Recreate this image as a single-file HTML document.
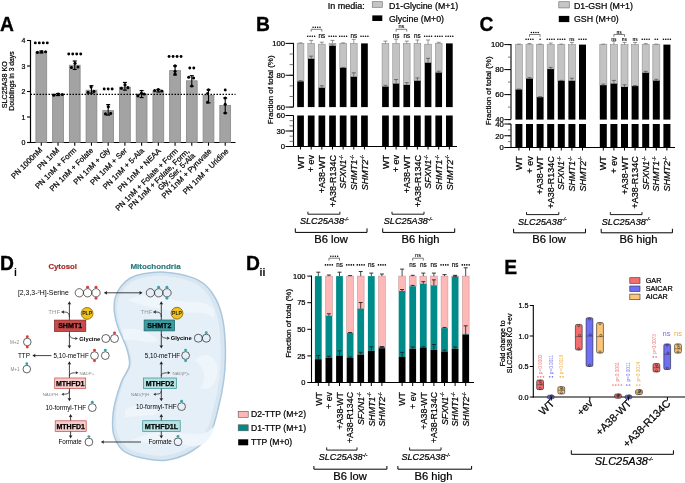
<!DOCTYPE html>
<html><head><meta charset="utf-8"><style>
html,body{margin:0;padding:0;background:#fff;width:685px;height:483px;overflow:hidden}
svg{display:block;will-change:transform}
text{font-family:"Liberation Sans", sans-serif}
</style></head><body>
<svg width="685" height="483" viewBox="0 0 685 483" font-family='"Liberation Sans", sans-serif'>
<rect width="685" height="483" fill="#fff"/>
<text x="0.00" y="31.00" font-size="19.3" text-anchor="start" fill="#000" font-weight="bold" stroke="#000" stroke-width="0.3">A</text>
<line x1="30.50" y1="40.00" x2="30.50" y2="143.00" stroke="#000" stroke-width="1.2"/>
<line x1="30.00" y1="142.50" x2="235.50" y2="142.50" stroke="#000" stroke-width="1.2"/>
<line x1="27.00" y1="142.50" x2="30.50" y2="142.50" stroke="#000" stroke-width="1.1"/>
<text x="25.50" y="145.00" font-size="7.0" text-anchor="end" fill="#000" stroke="#000" stroke-width="0.22">0</text>
<line x1="27.00" y1="117.00" x2="30.50" y2="117.00" stroke="#000" stroke-width="1.1"/>
<text x="25.50" y="119.50" font-size="7.0" text-anchor="end" fill="#000" stroke="#000" stroke-width="0.22">1</text>
<line x1="27.00" y1="91.50" x2="30.50" y2="91.50" stroke="#000" stroke-width="1.1"/>
<text x="25.50" y="94.00" font-size="7.0" text-anchor="end" fill="#000" stroke="#000" stroke-width="0.22">2</text>
<line x1="27.00" y1="66.00" x2="30.50" y2="66.00" stroke="#000" stroke-width="1.1"/>
<text x="25.50" y="68.50" font-size="7.0" text-anchor="end" fill="#000" stroke="#000" stroke-width="0.22">3</text>
<line x1="27.00" y1="40.50" x2="30.50" y2="40.50" stroke="#000" stroke-width="1.1"/>
<text x="25.50" y="43.00" font-size="7.0" text-anchor="end" fill="#000" stroke="#000" stroke-width="0.22">4</text>
<text x="7.30" y="84.70" font-size="7.2" text-anchor="middle" fill="#000" transform="rotate(-90 7.30 84.70)" stroke="#000" stroke-width="0.22">SLC25A38 KO</text>
<text x="14.00" y="81.00" font-size="6.8" text-anchor="middle" fill="#000" transform="rotate(-90 14.00 81.00)" stroke="#000" stroke-width="0.22">Doublings in 3 days</text>
<rect x="35.90" y="51.98" width="10.80" height="90.52" fill="#a3a3a3" stroke="#888888" stroke-width="0.8"/>
<line x1="41.30" y1="142.50" x2="41.30" y2="145.70" stroke="#000" stroke-width="1.1"/>
<rect x="52.62" y="94.56" width="10.80" height="47.94" fill="#a3a3a3" stroke="#888888" stroke-width="0.8"/>
<line x1="58.02" y1="142.50" x2="58.02" y2="145.70" stroke="#000" stroke-width="1.1"/>
<rect x="69.34" y="65.23" width="10.80" height="77.27" fill="#a3a3a3" stroke="#888888" stroke-width="0.8"/>
<line x1="74.74" y1="142.50" x2="74.74" y2="145.70" stroke="#000" stroke-width="1.1"/>
<rect x="86.06" y="90.22" width="10.80" height="52.28" fill="#a3a3a3" stroke="#888888" stroke-width="0.8"/>
<line x1="91.46" y1="142.50" x2="91.46" y2="145.70" stroke="#000" stroke-width="1.1"/>
<rect x="102.78" y="110.62" width="10.80" height="31.88" fill="#a3a3a3" stroke="#888888" stroke-width="0.8"/>
<line x1="108.18" y1="142.50" x2="108.18" y2="145.70" stroke="#000" stroke-width="1.1"/>
<rect x="119.50" y="87.16" width="10.80" height="55.34" fill="#a3a3a3" stroke="#888888" stroke-width="0.8"/>
<line x1="124.90" y1="142.50" x2="124.90" y2="145.70" stroke="#000" stroke-width="1.1"/>
<rect x="136.22" y="94.05" width="10.80" height="48.45" fill="#a3a3a3" stroke="#888888" stroke-width="0.8"/>
<line x1="141.62" y1="142.50" x2="141.62" y2="145.70" stroke="#000" stroke-width="1.1"/>
<rect x="152.94" y="90.99" width="10.80" height="51.51" fill="#a3a3a3" stroke="#888888" stroke-width="0.8"/>
<line x1="158.34" y1="142.50" x2="158.34" y2="145.70" stroke="#000" stroke-width="1.1"/>
<rect x="169.66" y="70.59" width="10.80" height="71.91" fill="#a3a3a3" stroke="#888888" stroke-width="0.8"/>
<line x1="175.06" y1="142.50" x2="175.06" y2="145.70" stroke="#000" stroke-width="1.1"/>
<rect x="186.38" y="80.79" width="10.80" height="61.71" fill="#a3a3a3" stroke="#888888" stroke-width="0.8"/>
<line x1="191.78" y1="142.50" x2="191.78" y2="145.70" stroke="#000" stroke-width="1.1"/>
<rect x="203.10" y="95.32" width="10.80" height="47.18" fill="#a3a3a3" stroke="#888888" stroke-width="0.8"/>
<line x1="208.50" y1="142.50" x2="208.50" y2="145.70" stroke="#000" stroke-width="1.1"/>
<rect x="219.82" y="105.53" width="10.80" height="36.97" fill="#a3a3a3" stroke="#888888" stroke-width="0.8"/>
<line x1="225.22" y1="142.50" x2="225.22" y2="145.70" stroke="#000" stroke-width="1.1"/>
<line x1="41.30" y1="50.98" x2="41.30" y2="52.98" stroke="#000" stroke-width="1.1"/>
<line x1="39.30" y1="50.98" x2="43.30" y2="50.98" stroke="#000" stroke-width="1.2"/>
<line x1="39.30" y1="52.98" x2="43.30" y2="52.98" stroke="#000" stroke-width="1.2"/>
<circle cx="37.40" cy="52.38" r="1.55" fill="#000" stroke="none" stroke-width="0.6"/>
<circle cx="41.70" cy="51.68" r="1.55" fill="#000" stroke="none" stroke-width="0.6"/>
<circle cx="45.60" cy="51.68" r="1.55" fill="#000" stroke="none" stroke-width="0.6"/>
<circle cx="35.30" cy="42.90" r="1.45" fill="#000" stroke="none" stroke-width="0.6"/>
<circle cx="39.30" cy="42.90" r="1.45" fill="#000" stroke="none" stroke-width="0.6"/>
<circle cx="43.30" cy="42.90" r="1.45" fill="#000" stroke="none" stroke-width="0.6"/>
<circle cx="47.30" cy="42.90" r="1.45" fill="#000" stroke="none" stroke-width="0.6"/>
<line x1="58.02" y1="93.56" x2="58.02" y2="95.56" stroke="#000" stroke-width="1.1"/>
<line x1="56.02" y1="93.56" x2="60.02" y2="93.56" stroke="#000" stroke-width="1.2"/>
<line x1="56.02" y1="95.56" x2="60.02" y2="95.56" stroke="#000" stroke-width="1.2"/>
<circle cx="53.82" cy="95.16" r="1.55" fill="#000" stroke="none" stroke-width="0.6"/>
<circle cx="58.32" cy="93.96" r="1.55" fill="#000" stroke="none" stroke-width="0.6"/>
<circle cx="62.32" cy="94.46" r="1.55" fill="#000" stroke="none" stroke-width="0.6"/>
<line x1="74.74" y1="61.03" x2="74.74" y2="69.44" stroke="#000" stroke-width="1.1"/>
<line x1="72.74" y1="61.03" x2="76.74" y2="61.03" stroke="#000" stroke-width="1.2"/>
<line x1="72.74" y1="69.44" x2="76.74" y2="69.44" stroke="#000" stroke-width="1.2"/>
<circle cx="71.44" cy="67.44" r="1.55" fill="#000" stroke="none" stroke-width="0.6"/>
<circle cx="75.04" cy="63.34" r="1.55" fill="#000" stroke="none" stroke-width="0.6"/>
<circle cx="77.94" cy="66.94" r="1.55" fill="#000" stroke="none" stroke-width="0.6"/>
<circle cx="68.74" cy="54.00" r="1.45" fill="#000" stroke="none" stroke-width="0.6"/>
<circle cx="72.74" cy="54.00" r="1.45" fill="#000" stroke="none" stroke-width="0.6"/>
<circle cx="76.74" cy="54.00" r="1.45" fill="#000" stroke="none" stroke-width="0.6"/>
<circle cx="80.74" cy="54.00" r="1.45" fill="#000" stroke="none" stroke-width="0.6"/>
<line x1="91.46" y1="85.72" x2="91.46" y2="93.22" stroke="#000" stroke-width="1.1"/>
<line x1="89.46" y1="85.72" x2="93.46" y2="85.72" stroke="#000" stroke-width="1.2"/>
<line x1="89.46" y1="93.22" x2="93.46" y2="93.22" stroke="#000" stroke-width="1.2"/>
<circle cx="88.06" cy="92.42" r="1.55" fill="#000" stroke="none" stroke-width="0.6"/>
<circle cx="91.16" cy="87.12" r="1.55" fill="#000" stroke="none" stroke-width="0.6"/>
<circle cx="93.96" cy="91.42" r="1.55" fill="#000" stroke="none" stroke-width="0.6"/>
<line x1="108.18" y1="104.62" x2="108.18" y2="115.12" stroke="#000" stroke-width="1.1"/>
<line x1="106.18" y1="104.62" x2="110.18" y2="104.62" stroke="#000" stroke-width="1.2"/>
<line x1="106.18" y1="115.12" x2="110.18" y2="115.12" stroke="#000" stroke-width="1.2"/>
<circle cx="105.48" cy="113.92" r="1.55" fill="#000" stroke="none" stroke-width="0.6"/>
<circle cx="108.28" cy="106.83" r="1.55" fill="#000" stroke="none" stroke-width="0.6"/>
<circle cx="110.68" cy="113.42" r="1.55" fill="#000" stroke="none" stroke-width="0.6"/>
<circle cx="104.18" cy="89.00" r="1.45" fill="#000" stroke="none" stroke-width="0.6"/>
<circle cx="108.18" cy="89.00" r="1.45" fill="#000" stroke="none" stroke-width="0.6"/>
<circle cx="112.18" cy="89.00" r="1.45" fill="#000" stroke="none" stroke-width="0.6"/>
<line x1="124.90" y1="82.46" x2="124.90" y2="90.16" stroke="#000" stroke-width="1.1"/>
<line x1="122.90" y1="82.46" x2="126.90" y2="82.46" stroke="#000" stroke-width="1.2"/>
<line x1="122.90" y1="90.16" x2="126.90" y2="90.16" stroke="#000" stroke-width="1.2"/>
<circle cx="121.40" cy="88.36" r="1.55" fill="#000" stroke="none" stroke-width="0.6"/>
<circle cx="125.00" cy="84.86" r="1.55" fill="#000" stroke="none" stroke-width="0.6"/>
<circle cx="127.90" cy="87.66" r="1.55" fill="#000" stroke="none" stroke-width="0.6"/>
<line x1="141.62" y1="90.55" x2="141.62" y2="97.55" stroke="#000" stroke-width="1.1"/>
<line x1="139.62" y1="90.55" x2="143.62" y2="90.55" stroke="#000" stroke-width="1.2"/>
<line x1="139.62" y1="97.55" x2="143.62" y2="97.55" stroke="#000" stroke-width="1.2"/>
<circle cx="137.92" cy="95.85" r="1.55" fill="#000" stroke="none" stroke-width="0.6"/>
<circle cx="141.42" cy="93.15" r="1.55" fill="#000" stroke="none" stroke-width="0.6"/>
<circle cx="144.12" cy="94.05" r="1.55" fill="#000" stroke="none" stroke-width="0.6"/>
<line x1="158.34" y1="89.49" x2="158.34" y2="91.99" stroke="#000" stroke-width="1.1"/>
<line x1="156.34" y1="89.49" x2="160.34" y2="89.49" stroke="#000" stroke-width="1.2"/>
<line x1="156.34" y1="91.99" x2="160.34" y2="91.99" stroke="#000" stroke-width="1.2"/>
<circle cx="154.64" cy="90.59" r="1.55" fill="#000" stroke="none" stroke-width="0.6"/>
<circle cx="158.24" cy="89.59" r="1.55" fill="#000" stroke="none" stroke-width="0.6"/>
<circle cx="161.74" cy="90.99" r="1.55" fill="#000" stroke="none" stroke-width="0.6"/>
<line x1="175.06" y1="65.89" x2="175.06" y2="74.89" stroke="#000" stroke-width="1.1"/>
<line x1="173.06" y1="65.89" x2="177.06" y2="65.89" stroke="#000" stroke-width="1.2"/>
<line x1="173.06" y1="74.89" x2="177.06" y2="74.89" stroke="#000" stroke-width="1.2"/>
<circle cx="175.06" cy="65.89" r="1.55" fill="#000" stroke="none" stroke-width="0.6"/>
<circle cx="175.06" cy="71.19" r="1.55" fill="#000" stroke="none" stroke-width="0.6"/>
<circle cx="175.06" cy="74.09" r="1.55" fill="#000" stroke="none" stroke-width="0.6"/>
<circle cx="169.06" cy="56.50" r="1.45" fill="#000" stroke="none" stroke-width="0.6"/>
<circle cx="173.06" cy="56.50" r="1.45" fill="#000" stroke="none" stroke-width="0.6"/>
<circle cx="177.06" cy="56.50" r="1.45" fill="#000" stroke="none" stroke-width="0.6"/>
<circle cx="181.06" cy="56.50" r="1.45" fill="#000" stroke="none" stroke-width="0.6"/>
<line x1="191.78" y1="75.69" x2="191.78" y2="86.29" stroke="#000" stroke-width="1.1"/>
<line x1="189.78" y1="75.69" x2="193.78" y2="75.69" stroke="#000" stroke-width="1.2"/>
<line x1="189.78" y1="86.29" x2="193.78" y2="86.29" stroke="#000" stroke-width="1.2"/>
<circle cx="188.68" cy="77.29" r="1.55" fill="#000" stroke="none" stroke-width="0.6"/>
<circle cx="193.58" cy="77.99" r="1.55" fill="#000" stroke="none" stroke-width="0.6"/>
<circle cx="191.78" cy="85.99" r="1.55" fill="#000" stroke="none" stroke-width="0.6"/>
<circle cx="189.78" cy="68.00" r="1.45" fill="#000" stroke="none" stroke-width="0.6"/>
<circle cx="193.78" cy="68.00" r="1.45" fill="#000" stroke="none" stroke-width="0.6"/>
<line x1="208.50" y1="89.82" x2="208.50" y2="102.82" stroke="#000" stroke-width="1.1"/>
<line x1="206.50" y1="89.82" x2="210.50" y2="89.82" stroke="#000" stroke-width="1.2"/>
<line x1="206.50" y1="102.82" x2="210.50" y2="102.82" stroke="#000" stroke-width="1.2"/>
<circle cx="207.60" cy="93.52" r="1.55" fill="#000" stroke="none" stroke-width="0.6"/>
<circle cx="207.60" cy="102.32" r="1.55" fill="#000" stroke="none" stroke-width="0.6"/>
<circle cx="208.50" cy="89.82" r="1.55" fill="#000" stroke="none" stroke-width="0.6"/>
<line x1="225.22" y1="98.03" x2="225.22" y2="113.03" stroke="#000" stroke-width="1.1"/>
<line x1="223.22" y1="98.03" x2="227.22" y2="98.03" stroke="#000" stroke-width="1.2"/>
<line x1="223.22" y1="113.03" x2="227.22" y2="113.03" stroke="#000" stroke-width="1.2"/>
<circle cx="225.22" cy="104.23" r="1.55" fill="#000" stroke="none" stroke-width="0.6"/>
<circle cx="225.22" cy="113.03" r="1.55" fill="#000" stroke="none" stroke-width="0.6"/>
<circle cx="225.22" cy="98.03" r="1.55" fill="#000" stroke="none" stroke-width="0.6"/>
<circle cx="225.22" cy="90.00" r="1.45" fill="#000" stroke="none" stroke-width="0.6"/>
<line x1="30.50" y1="94.35" x2="235.50" y2="94.35" stroke="#000" stroke-width="1.3" stroke-dasharray="1.5,1.5"/>
<text x="42.90" y="150.50" font-size="7.7" text-anchor="end" fill="#000" transform="rotate(-45 42.90 150.50)" stroke="#000" stroke-width="0.22">PN 1000nM</text>
<text x="59.82" y="150.62" font-size="7.7" text-anchor="end" fill="#000" transform="rotate(-45 59.82 150.62)" stroke="#000" stroke-width="0.22">PN 1nM</text>
<text x="76.74" y="150.74" font-size="7.7" text-anchor="end" fill="#000" transform="rotate(-45 76.74 150.74)" stroke="#000" stroke-width="0.22">PN 1nM + Form</text>
<text x="93.66" y="150.86" font-size="7.7" text-anchor="end" fill="#000" transform="rotate(-45 93.66 150.86)" stroke="#000" stroke-width="0.22">PN 1nM + Folate</text>
<text x="110.58" y="150.98" font-size="7.7" text-anchor="end" fill="#000" transform="rotate(-45 110.58 150.98)" stroke="#000" stroke-width="0.22">PN 1nM + Gly</text>
<text x="127.50" y="151.10" font-size="7.7" text-anchor="end" fill="#000" transform="rotate(-45 127.50 151.10)" stroke="#000" stroke-width="0.22">PN 1nM + Ser</text>
<text x="144.42" y="151.22" font-size="7.7" text-anchor="end" fill="#000" transform="rotate(-45 144.42 151.22)" stroke="#000" stroke-width="0.22">PN 1nM + 5-Ala</text>
<text x="161.34" y="151.34" font-size="7.7" text-anchor="end" fill="#000" transform="rotate(-45 161.34 151.34)" stroke="#000" stroke-width="0.22">PN 1nM + NEAA</text>
<text x="178.26" y="151.46" font-size="7.7" text-anchor="end" fill="#000" transform="rotate(-45 178.26 151.46)" stroke="#000" stroke-width="0.22">PN 1nM + Folate + Form</text>
<text x="195.58" y="156.18" font-size="7.7" text-anchor="end" fill="#000" transform="rotate(-45 195.58 156.18)" stroke="#000" stroke-width="0.22">Gly, Ser, 5-Ala</text>
<text x="189.78" y="151.58" font-size="7.7" text-anchor="end" fill="#000" transform="rotate(-45 189.78 151.58)" stroke="#000" stroke-width="0.22">PN 1nM + Folate, Form,</text>
<text x="212.10" y="151.70" font-size="7.7" text-anchor="end" fill="#000" transform="rotate(-45 212.10 151.70)" stroke="#000" stroke-width="0.22">PN 1nM + Pyruvate</text>
<text x="229.02" y="151.82" font-size="7.7" text-anchor="end" fill="#000" transform="rotate(-45 229.02 151.82)" stroke="#000" stroke-width="0.22">PN 1nM + Uridine</text>
<text x="255.90" y="31.20" font-size="19.3" text-anchor="start" fill="#000" font-weight="bold" stroke="#000" stroke-width="0.3">B</text>
<text x="327.80" y="8.80" font-size="9.0" text-anchor="start" fill="#000" stroke="#000" stroke-width="0.22">In media:</text>
<rect x="372.30" y="1.70" width="10.00" height="5.60" fill="#c6c6c6" stroke="#7a7a7a" stroke-width="0.7"/>
<text x="389.00" y="8.60" font-size="8.8" text-anchor="start" fill="#000" stroke="#000" stroke-width="0.22">D1-Glycine (M+1)</text>
<rect x="372.30" y="15.40" width="10.00" height="5.60" fill="#000" stroke="none" stroke-width="0.6"/>
<text x="389.00" y="22.00" font-size="8.8" text-anchor="start" fill="#000" stroke="#000" stroke-width="0.22">Glycine (M+0)</text>
<line x1="293.50" y1="42.90" x2="293.50" y2="107.10" stroke="#000" stroke-width="1.1"/>
<line x1="293.50" y1="115.50" x2="293.50" y2="147.00" stroke="#000" stroke-width="1.1"/>
<line x1="293.00" y1="146.50" x2="457.00" y2="146.50" stroke="#000" stroke-width="1.1"/>
<line x1="289.50" y1="43.40" x2="293.50" y2="43.40" stroke="#555" stroke-width="0.8"/>
<line x1="289.50" y1="54.02" x2="293.50" y2="54.02" stroke="#555" stroke-width="0.8"/>
<line x1="289.50" y1="64.63" x2="293.50" y2="64.63" stroke="#555" stroke-width="0.8"/>
<line x1="289.50" y1="75.25" x2="293.50" y2="75.25" stroke="#555" stroke-width="0.8"/>
<line x1="289.50" y1="85.87" x2="293.50" y2="85.87" stroke="#555" stroke-width="0.8"/>
<line x1="289.50" y1="96.48" x2="293.50" y2="96.48" stroke="#555" stroke-width="0.8"/>
<line x1="289.50" y1="107.10" x2="293.50" y2="107.10" stroke="#555" stroke-width="0.8"/>
<line x1="285.50" y1="43.40" x2="293.50" y2="43.40" stroke="#000" stroke-width="1.0"/>
<text x="285.10" y="46.20" font-size="7.7" text-anchor="end" fill="#000" stroke="#000" stroke-width="0.22">100</text>
<line x1="285.50" y1="75.25" x2="293.50" y2="75.25" stroke="#000" stroke-width="1.0"/>
<text x="285.10" y="78.05" font-size="7.7" text-anchor="end" fill="#000" stroke="#000" stroke-width="0.22">80</text>
<line x1="285.50" y1="107.10" x2="293.50" y2="107.10" stroke="#000" stroke-width="1.0"/>
<text x="285.10" y="109.90" font-size="7.7" text-anchor="end" fill="#000" stroke="#000" stroke-width="0.22">60</text>
<line x1="289.50" y1="146.50" x2="293.50" y2="146.50" stroke="#555" stroke-width="0.8"/>
<line x1="289.50" y1="141.33" x2="293.50" y2="141.33" stroke="#555" stroke-width="0.8"/>
<line x1="289.50" y1="136.17" x2="293.50" y2="136.17" stroke="#555" stroke-width="0.8"/>
<line x1="289.50" y1="131.00" x2="293.50" y2="131.00" stroke="#555" stroke-width="0.8"/>
<line x1="289.50" y1="125.83" x2="293.50" y2="125.83" stroke="#555" stroke-width="0.8"/>
<line x1="289.50" y1="120.67" x2="293.50" y2="120.67" stroke="#555" stroke-width="0.8"/>
<line x1="289.50" y1="115.50" x2="293.50" y2="115.50" stroke="#555" stroke-width="0.8"/>
<line x1="285.50" y1="115.50" x2="293.50" y2="115.50" stroke="#000" stroke-width="1.0"/>
<text x="285.10" y="118.30" font-size="7.7" text-anchor="end" fill="#000" stroke="#000" stroke-width="0.22">60</text>
<line x1="285.50" y1="131.00" x2="293.50" y2="131.00" stroke="#000" stroke-width="1.0"/>
<text x="285.10" y="133.80" font-size="7.7" text-anchor="end" fill="#000" stroke="#000" stroke-width="0.22">30</text>
<line x1="285.50" y1="146.50" x2="293.50" y2="146.50" stroke="#000" stroke-width="1.0"/>
<text x="285.10" y="149.30" font-size="7.7" text-anchor="end" fill="#000" stroke="#000" stroke-width="0.22">0</text>
<text x="273.20" y="89.90" font-size="7.9" text-anchor="middle" fill="#000" transform="rotate(-90 273.20 89.90)" stroke="#000" stroke-width="0.22">Fraction of total (%)</text>
<rect x="297.20" y="43.40" width="6.70" height="38.06" fill="#c3c3c3" stroke="#949494" stroke-width="0.65"/>
<rect x="297.20" y="81.46" width="6.70" height="25.64" fill="#000" stroke="none" stroke-width="0.6"/>
<rect x="297.20" y="115.50" width="6.70" height="31.00" fill="#000" stroke="none" stroke-width="0.6"/>
<line x1="300.55" y1="146.50" x2="300.55" y2="149.50" stroke="#000" stroke-width="1.0"/>
<text x="303.75" y="154.90" font-size="9.0" text-anchor="end" fill="#000" transform="rotate(-90 303.75 154.90)" stroke="#000" stroke-width="0.22">WT</text>
<rect x="307.85" y="43.40" width="6.70" height="15.45" fill="#c3c3c3" stroke="#949494" stroke-width="0.65"/>
<rect x="307.85" y="58.85" width="6.70" height="48.25" fill="#000" stroke="none" stroke-width="0.6"/>
<rect x="307.85" y="115.50" width="6.70" height="31.00" fill="#000" stroke="none" stroke-width="0.6"/>
<line x1="311.20" y1="146.50" x2="311.20" y2="149.50" stroke="#000" stroke-width="1.0"/>
<text x="314.40" y="154.90" font-size="9.0" text-anchor="end" fill="#000" transform="rotate(-90 314.40 154.90)" stroke="#000" stroke-width="0.22">+ ev</text>
<rect x="318.50" y="44.20" width="6.70" height="43.63" fill="#c3c3c3" stroke="#949494" stroke-width="0.65"/>
<rect x="318.50" y="87.83" width="6.70" height="19.27" fill="#000" stroke="none" stroke-width="0.6"/>
<rect x="318.50" y="115.50" width="6.70" height="31.00" fill="#000" stroke="none" stroke-width="0.6"/>
<line x1="321.85" y1="146.50" x2="321.85" y2="149.50" stroke="#000" stroke-width="1.0"/>
<text x="325.05" y="154.90" font-size="9.0" text-anchor="end" fill="#000" transform="rotate(-90 325.05 154.90)" stroke="#000" stroke-width="0.22">+A38-WT</text>
<rect x="329.15" y="43.40" width="6.70" height="2.55" fill="#c3c3c3" stroke="#949494" stroke-width="0.65"/>
<rect x="329.15" y="45.95" width="6.70" height="61.15" fill="#000" stroke="none" stroke-width="0.6"/>
<rect x="329.15" y="115.50" width="6.70" height="31.00" fill="#000" stroke="none" stroke-width="0.6"/>
<line x1="332.50" y1="146.50" x2="332.50" y2="149.50" stroke="#000" stroke-width="1.0"/>
<text x="335.70" y="154.90" font-size="9.0" text-anchor="end" fill="#000" transform="rotate(-90 335.70 154.90)" stroke="#000" stroke-width="0.22">+A38-R134C</text>
<rect x="339.80" y="43.40" width="6.70" height="24.52" fill="#c3c3c3" stroke="#949494" stroke-width="0.65"/>
<rect x="339.80" y="67.92" width="6.70" height="39.18" fill="#000" stroke="none" stroke-width="0.6"/>
<rect x="339.80" y="115.50" width="6.70" height="31.00" fill="#000" stroke="none" stroke-width="0.6"/>
<line x1="343.15" y1="146.50" x2="343.15" y2="149.50" stroke="#000" stroke-width="1.0"/>
<text x="346.35" y="154.90" font-size="9.0" text-anchor="end" fill="#000" transform="rotate(-90 346.35 154.90)" stroke="#000" stroke-width="0.22"><tspan font-style="italic">SFXN1</tspan><tspan font-size="5" dy="-3.2">-/-</tspan></text>
<rect x="350.45" y="43.40" width="6.70" height="33.44" fill="#c3c3c3" stroke="#949494" stroke-width="0.65"/>
<rect x="350.45" y="76.84" width="6.70" height="30.26" fill="#000" stroke="none" stroke-width="0.6"/>
<rect x="350.45" y="115.50" width="6.70" height="31.00" fill="#000" stroke="none" stroke-width="0.6"/>
<line x1="353.80" y1="146.50" x2="353.80" y2="149.50" stroke="#000" stroke-width="1.0"/>
<text x="357.00" y="154.90" font-size="9.0" text-anchor="end" fill="#000" transform="rotate(-90 357.00 154.90)" stroke="#000" stroke-width="0.22"><tspan font-style="italic">SHMT1</tspan><tspan font-size="5" dy="-3.2">-/-</tspan></text>
<rect x="361.10" y="43.40" width="6.70" height="63.70" fill="#000" stroke="none" stroke-width="0.6"/>
<rect x="361.10" y="115.50" width="6.70" height="31.00" fill="#000" stroke="none" stroke-width="0.6"/>
<line x1="364.45" y1="146.50" x2="364.45" y2="149.50" stroke="#000" stroke-width="1.0"/>
<text x="367.65" y="154.90" font-size="9.0" text-anchor="end" fill="#000" transform="rotate(-90 367.65 154.90)" stroke="#000" stroke-width="0.22"><tspan font-style="italic">SHMT2</tspan><tspan font-size="5" dy="-3.2">-/-</tspan></text>
<line x1="300.55" y1="43.40" x2="300.55" y2="42.90" stroke="#777" stroke-width="0.7200000000000001"/>
<line x1="298.55" y1="42.90" x2="302.55" y2="42.90" stroke="#777" stroke-width="0.8"/>
<line x1="300.55" y1="81.46" x2="300.55" y2="80.66" stroke="#555" stroke-width="0.7200000000000001"/>
<line x1="298.55" y1="80.66" x2="302.55" y2="80.66" stroke="#555" stroke-width="0.8"/>
<line x1="311.20" y1="43.40" x2="311.20" y2="40.40" stroke="#777" stroke-width="0.7200000000000001"/>
<line x1="309.20" y1="40.40" x2="313.20" y2="40.40" stroke="#777" stroke-width="0.8"/>
<line x1="311.20" y1="58.85" x2="311.20" y2="56.15" stroke="#555" stroke-width="0.7200000000000001"/>
<line x1="309.20" y1="56.15" x2="313.20" y2="56.15" stroke="#555" stroke-width="0.8"/>
<circle cx="307.75" cy="36.30" r="0.80" fill="#000" stroke="none" stroke-width="0.6"/>
<circle cx="310.05" cy="36.30" r="0.80" fill="#000" stroke="none" stroke-width="0.6"/>
<circle cx="312.35" cy="36.30" r="0.80" fill="#000" stroke="none" stroke-width="0.6"/>
<circle cx="314.65" cy="36.30" r="0.80" fill="#000" stroke="none" stroke-width="0.6"/>
<line x1="321.85" y1="44.20" x2="321.85" y2="42.20" stroke="#777" stroke-width="0.7200000000000001"/>
<line x1="319.85" y1="42.20" x2="323.85" y2="42.20" stroke="#777" stroke-width="0.8"/>
<line x1="321.85" y1="87.83" x2="321.85" y2="85.73" stroke="#555" stroke-width="0.7200000000000001"/>
<line x1="319.85" y1="85.73" x2="323.85" y2="85.73" stroke="#555" stroke-width="0.8"/>
<text x="321.85" y="37.90" font-size="6.3" text-anchor="middle" fill="#000" stroke="#000" stroke-width="0.15">ns</text>
<line x1="332.50" y1="43.40" x2="332.50" y2="40.40" stroke="#777" stroke-width="0.7200000000000001"/>
<line x1="330.50" y1="40.40" x2="334.50" y2="40.40" stroke="#777" stroke-width="0.8"/>
<line x1="332.50" y1="45.95" x2="332.50" y2="44.95" stroke="#555" stroke-width="0.7200000000000001"/>
<line x1="330.50" y1="44.95" x2="334.50" y2="44.95" stroke="#555" stroke-width="0.8"/>
<circle cx="329.05" cy="36.30" r="0.80" fill="#000" stroke="none" stroke-width="0.6"/>
<circle cx="331.35" cy="36.30" r="0.80" fill="#000" stroke="none" stroke-width="0.6"/>
<circle cx="333.65" cy="36.30" r="0.80" fill="#000" stroke="none" stroke-width="0.6"/>
<circle cx="335.95" cy="36.30" r="0.80" fill="#000" stroke="none" stroke-width="0.6"/>
<line x1="343.15" y1="43.40" x2="343.15" y2="42.90" stroke="#777" stroke-width="0.7200000000000001"/>
<line x1="341.15" y1="42.90" x2="345.15" y2="42.90" stroke="#777" stroke-width="0.8"/>
<line x1="343.15" y1="67.92" x2="343.15" y2="67.42" stroke="#555" stroke-width="0.7200000000000001"/>
<line x1="341.15" y1="67.42" x2="345.15" y2="67.42" stroke="#555" stroke-width="0.8"/>
<circle cx="339.70" cy="36.30" r="0.80" fill="#000" stroke="none" stroke-width="0.6"/>
<circle cx="342.00" cy="36.30" r="0.80" fill="#000" stroke="none" stroke-width="0.6"/>
<circle cx="344.30" cy="36.30" r="0.80" fill="#000" stroke="none" stroke-width="0.6"/>
<circle cx="346.60" cy="36.30" r="0.80" fill="#000" stroke="none" stroke-width="0.6"/>
<line x1="353.80" y1="43.40" x2="353.80" y2="39.40" stroke="#777" stroke-width="0.7200000000000001"/>
<line x1="351.80" y1="39.40" x2="355.80" y2="39.40" stroke="#777" stroke-width="0.8"/>
<line x1="353.80" y1="76.84" x2="353.80" y2="72.84" stroke="#555" stroke-width="0.7200000000000001"/>
<line x1="351.80" y1="72.84" x2="355.80" y2="72.84" stroke="#555" stroke-width="0.8"/>
<text x="353.80" y="37.90" font-size="6.3" text-anchor="middle" fill="#000" stroke="#000" stroke-width="0.15">ns</text>
<circle cx="361.00" cy="36.30" r="0.80" fill="#000" stroke="none" stroke-width="0.6"/>
<circle cx="363.30" cy="36.30" r="0.80" fill="#000" stroke="none" stroke-width="0.6"/>
<circle cx="365.60" cy="36.30" r="0.80" fill="#000" stroke="none" stroke-width="0.6"/>
<circle cx="367.90" cy="36.30" r="0.80" fill="#000" stroke="none" stroke-width="0.6"/>
<path d="M311.20 31.60 V29.30 H321.85 V31.60" fill="none" stroke="#444" stroke-width="0.7"/>
<circle cx="313.07" cy="27.20" r="0.75" fill="#000" stroke="none" stroke-width="0.6"/>
<circle cx="315.38" cy="27.20" r="0.75" fill="#000" stroke="none" stroke-width="0.6"/>
<circle cx="317.68" cy="27.20" r="0.75" fill="#000" stroke="none" stroke-width="0.6"/>
<circle cx="319.97" cy="27.20" r="0.75" fill="#000" stroke="none" stroke-width="0.6"/>
<rect x="382.10" y="43.40" width="6.70" height="43.32" fill="#c3c3c3" stroke="#949494" stroke-width="0.65"/>
<rect x="382.10" y="86.72" width="6.70" height="20.38" fill="#000" stroke="none" stroke-width="0.6"/>
<rect x="382.10" y="115.50" width="6.70" height="31.00" fill="#000" stroke="none" stroke-width="0.6"/>
<line x1="385.45" y1="146.50" x2="385.45" y2="149.50" stroke="#000" stroke-width="1.0"/>
<text x="388.65" y="154.90" font-size="9.0" text-anchor="end" fill="#000" transform="rotate(-90 388.65 154.90)" stroke="#000" stroke-width="0.22">WT</text>
<rect x="392.75" y="43.40" width="6.70" height="40.29" fill="#c3c3c3" stroke="#949494" stroke-width="0.65"/>
<rect x="392.75" y="83.69" width="6.70" height="23.41" fill="#000" stroke="none" stroke-width="0.6"/>
<rect x="392.75" y="115.50" width="6.70" height="31.00" fill="#000" stroke="none" stroke-width="0.6"/>
<line x1="396.10" y1="146.50" x2="396.10" y2="149.50" stroke="#000" stroke-width="1.0"/>
<text x="399.30" y="154.90" font-size="9.0" text-anchor="end" fill="#000" transform="rotate(-90 399.30 154.90)" stroke="#000" stroke-width="0.22">+ ev</text>
<rect x="403.40" y="43.40" width="6.70" height="41.56" fill="#c3c3c3" stroke="#949494" stroke-width="0.65"/>
<rect x="403.40" y="84.96" width="6.70" height="22.14" fill="#000" stroke="none" stroke-width="0.6"/>
<rect x="403.40" y="115.50" width="6.70" height="31.00" fill="#000" stroke="none" stroke-width="0.6"/>
<line x1="406.75" y1="146.50" x2="406.75" y2="149.50" stroke="#000" stroke-width="1.0"/>
<text x="409.95" y="154.90" font-size="9.0" text-anchor="end" fill="#000" transform="rotate(-90 409.95 154.90)" stroke="#000" stroke-width="0.22">+A38-WT</text>
<rect x="414.05" y="43.40" width="6.70" height="37.42" fill="#c3c3c3" stroke="#949494" stroke-width="0.65"/>
<rect x="414.05" y="80.82" width="6.70" height="26.28" fill="#000" stroke="none" stroke-width="0.6"/>
<rect x="414.05" y="115.50" width="6.70" height="31.00" fill="#000" stroke="none" stroke-width="0.6"/>
<line x1="417.40" y1="146.50" x2="417.40" y2="149.50" stroke="#000" stroke-width="1.0"/>
<text x="420.60" y="154.90" font-size="9.0" text-anchor="end" fill="#000" transform="rotate(-90 420.60 154.90)" stroke="#000" stroke-width="0.22">+A38-R134C</text>
<rect x="424.70" y="44.20" width="6.70" height="18.63" fill="#c3c3c3" stroke="#949494" stroke-width="0.65"/>
<rect x="424.70" y="62.83" width="6.70" height="44.27" fill="#000" stroke="none" stroke-width="0.6"/>
<rect x="424.70" y="115.50" width="6.70" height="31.00" fill="#000" stroke="none" stroke-width="0.6"/>
<line x1="428.05" y1="146.50" x2="428.05" y2="149.50" stroke="#000" stroke-width="1.0"/>
<text x="431.25" y="154.90" font-size="9.0" text-anchor="end" fill="#000" transform="rotate(-90 431.25 154.90)" stroke="#000" stroke-width="0.22"><tspan font-style="italic">SFXN1</tspan><tspan font-size="5" dy="-3.2">-/-</tspan></text>
<rect x="435.35" y="43.40" width="6.70" height="29.30" fill="#c3c3c3" stroke="#949494" stroke-width="0.65"/>
<rect x="435.35" y="72.70" width="6.70" height="34.40" fill="#000" stroke="none" stroke-width="0.6"/>
<rect x="435.35" y="115.50" width="6.70" height="31.00" fill="#000" stroke="none" stroke-width="0.6"/>
<line x1="438.70" y1="146.50" x2="438.70" y2="149.50" stroke="#000" stroke-width="1.0"/>
<text x="441.90" y="154.90" font-size="9.0" text-anchor="end" fill="#000" transform="rotate(-90 441.90 154.90)" stroke="#000" stroke-width="0.22"><tspan font-style="italic">SHMT1</tspan><tspan font-size="5" dy="-3.2">-/-</tspan></text>
<rect x="446.00" y="43.40" width="6.70" height="63.70" fill="#000" stroke="none" stroke-width="0.6"/>
<rect x="446.00" y="115.50" width="6.70" height="31.00" fill="#000" stroke="none" stroke-width="0.6"/>
<line x1="449.35" y1="146.50" x2="449.35" y2="149.50" stroke="#000" stroke-width="1.0"/>
<text x="452.55" y="154.90" font-size="9.0" text-anchor="end" fill="#000" transform="rotate(-90 452.55 154.90)" stroke="#000" stroke-width="0.22"><tspan font-style="italic">SHMT2</tspan><tspan font-size="5" dy="-3.2">-/-</tspan></text>
<line x1="385.45" y1="43.40" x2="385.45" y2="41.10" stroke="#777" stroke-width="0.7200000000000001"/>
<line x1="383.45" y1="41.10" x2="387.45" y2="41.10" stroke="#777" stroke-width="0.8"/>
<line x1="385.45" y1="86.72" x2="385.45" y2="85.32" stroke="#555" stroke-width="0.7200000000000001"/>
<line x1="383.45" y1="85.32" x2="387.45" y2="85.32" stroke="#555" stroke-width="0.8"/>
<line x1="396.10" y1="43.40" x2="396.10" y2="39.20" stroke="#777" stroke-width="0.7200000000000001"/>
<line x1="394.10" y1="39.20" x2="398.10" y2="39.20" stroke="#777" stroke-width="0.8"/>
<line x1="396.10" y1="83.69" x2="396.10" y2="79.59" stroke="#555" stroke-width="0.7200000000000001"/>
<line x1="394.10" y1="79.59" x2="398.10" y2="79.59" stroke="#555" stroke-width="0.8"/>
<text x="396.10" y="37.90" font-size="6.3" text-anchor="middle" fill="#000" stroke="#000" stroke-width="0.15">ns</text>
<line x1="406.75" y1="43.40" x2="406.75" y2="41.10" stroke="#777" stroke-width="0.7200000000000001"/>
<line x1="404.75" y1="41.10" x2="408.75" y2="41.10" stroke="#777" stroke-width="0.8"/>
<line x1="406.75" y1="84.96" x2="406.75" y2="82.66" stroke="#555" stroke-width="0.7200000000000001"/>
<line x1="404.75" y1="82.66" x2="408.75" y2="82.66" stroke="#555" stroke-width="0.8"/>
<text x="406.75" y="37.90" font-size="6.3" text-anchor="middle" fill="#000" stroke="#000" stroke-width="0.15">ns</text>
<line x1="417.40" y1="43.40" x2="417.40" y2="40.00" stroke="#777" stroke-width="0.7200000000000001"/>
<line x1="415.40" y1="40.00" x2="419.40" y2="40.00" stroke="#777" stroke-width="0.8"/>
<line x1="417.40" y1="80.82" x2="417.40" y2="77.92" stroke="#555" stroke-width="0.7200000000000001"/>
<line x1="415.40" y1="77.92" x2="419.40" y2="77.92" stroke="#555" stroke-width="0.8"/>
<text x="417.40" y="37.90" font-size="6.3" text-anchor="middle" fill="#000" stroke="#000" stroke-width="0.15">ns</text>
<line x1="428.05" y1="44.20" x2="428.05" y2="40.00" stroke="#777" stroke-width="0.7200000000000001"/>
<line x1="426.05" y1="40.00" x2="430.05" y2="40.00" stroke="#777" stroke-width="0.8"/>
<line x1="428.05" y1="62.83" x2="428.05" y2="58.33" stroke="#555" stroke-width="0.7200000000000001"/>
<line x1="426.05" y1="58.33" x2="430.05" y2="58.33" stroke="#555" stroke-width="0.8"/>
<circle cx="424.60" cy="36.30" r="0.80" fill="#000" stroke="none" stroke-width="0.6"/>
<circle cx="426.90" cy="36.30" r="0.80" fill="#000" stroke="none" stroke-width="0.6"/>
<circle cx="429.20" cy="36.30" r="0.80" fill="#000" stroke="none" stroke-width="0.6"/>
<circle cx="431.50" cy="36.30" r="0.80" fill="#000" stroke="none" stroke-width="0.6"/>
<line x1="438.70" y1="43.40" x2="438.70" y2="42.30" stroke="#777" stroke-width="0.7200000000000001"/>
<line x1="436.70" y1="42.30" x2="440.70" y2="42.30" stroke="#777" stroke-width="0.8"/>
<line x1="438.70" y1="72.70" x2="438.70" y2="71.20" stroke="#555" stroke-width="0.7200000000000001"/>
<line x1="436.70" y1="71.20" x2="440.70" y2="71.20" stroke="#555" stroke-width="0.8"/>
<circle cx="435.25" cy="36.30" r="0.80" fill="#000" stroke="none" stroke-width="0.6"/>
<circle cx="437.55" cy="36.30" r="0.80" fill="#000" stroke="none" stroke-width="0.6"/>
<circle cx="439.85" cy="36.30" r="0.80" fill="#000" stroke="none" stroke-width="0.6"/>
<circle cx="442.15" cy="36.30" r="0.80" fill="#000" stroke="none" stroke-width="0.6"/>
<circle cx="445.90" cy="36.30" r="0.80" fill="#000" stroke="none" stroke-width="0.6"/>
<circle cx="448.20" cy="36.30" r="0.80" fill="#000" stroke="none" stroke-width="0.6"/>
<circle cx="450.50" cy="36.30" r="0.80" fill="#000" stroke="none" stroke-width="0.6"/>
<circle cx="452.80" cy="36.30" r="0.80" fill="#000" stroke="none" stroke-width="0.6"/>
<path d="M396.10 31.60 V29.30 H406.75 V31.60" fill="none" stroke="#444" stroke-width="0.7"/>
<text x="401.43" y="28.00" font-size="5.6" text-anchor="middle" fill="#000" stroke="#000" stroke-width="0.1">ns</text>
<path d="M307.90 211.70 V214.20 H339.90 V211.70" fill="none" stroke="#000" stroke-width="0.9"/>
<text x="300.00" y="224.20" font-size="9.1" text-anchor="start" fill="#000" font-style="italic" stroke="#000" stroke-width="0.22">SLC25A38<tspan font-size="5" dy="-3.5">-/-</tspan></text>
<path d="M295.30 228.40 V232.40 H367.00 V228.40" fill="none" stroke="#000" stroke-width="1.0"/>
<text x="331.00" y="242.90" font-size="11.2" text-anchor="middle" fill="#000" stroke="#000" stroke-width="0.22">B6 low</text>
<path d="M392.00 211.70 V214.20 H424.00 V211.70" fill="none" stroke="#000" stroke-width="0.9"/>
<text x="383.80" y="224.20" font-size="9.1" text-anchor="start" fill="#000" font-style="italic" stroke="#000" stroke-width="0.22">SLC25A38<tspan font-size="5" dy="-3.5">-/-</tspan></text>
<path d="M382.70 228.40 V232.40 H454.70 V228.40" fill="none" stroke="#000" stroke-width="1.0"/>
<text x="420.50" y="242.90" font-size="11.2" text-anchor="middle" fill="#000" stroke="#000" stroke-width="0.22">B6 high</text>
<text x="479.40" y="31.30" font-size="19.3" text-anchor="start" fill="#000" font-weight="bold" stroke="#000" stroke-width="0.3">C</text>
<rect x="558.80" y="1.70" width="10.50" height="6.20" fill="#c6c6c6" stroke="#7a7a7a" stroke-width="0.7"/>
<text x="574.00" y="8.60" font-size="8.8" text-anchor="start" fill="#000" stroke="#000" stroke-width="0.22">D1-GSH (M+1)</text>
<rect x="558.80" y="15.90" width="10.50" height="6.20" fill="#000" stroke="none" stroke-width="0.6"/>
<text x="574.00" y="22.40" font-size="8.8" text-anchor="start" fill="#000" stroke="#000" stroke-width="0.22">GSH (M+0)</text>
<line x1="511.00" y1="44.10" x2="511.00" y2="119.60" stroke="#000" stroke-width="1.1"/>
<line x1="511.00" y1="124.00" x2="511.00" y2="148.00" stroke="#000" stroke-width="1.1"/>
<line x1="510.50" y1="147.50" x2="675.00" y2="147.50" stroke="#000" stroke-width="1.1"/>
<line x1="508.00" y1="44.60" x2="511.00" y2="44.60" stroke="#555" stroke-width="0.8"/>
<line x1="508.00" y1="57.10" x2="511.00" y2="57.10" stroke="#555" stroke-width="0.8"/>
<line x1="508.00" y1="69.60" x2="511.00" y2="69.60" stroke="#555" stroke-width="0.8"/>
<line x1="508.00" y1="82.10" x2="511.00" y2="82.10" stroke="#555" stroke-width="0.8"/>
<line x1="508.00" y1="94.60" x2="511.00" y2="94.60" stroke="#555" stroke-width="0.8"/>
<line x1="508.00" y1="107.10" x2="511.00" y2="107.10" stroke="#555" stroke-width="0.8"/>
<line x1="508.00" y1="119.60" x2="511.00" y2="119.60" stroke="#555" stroke-width="0.8"/>
<line x1="504.30" y1="44.60" x2="511.00" y2="44.60" stroke="#000" stroke-width="1.0"/>
<text x="503.90" y="47.40" font-size="7.7" text-anchor="end" fill="#000" stroke="#000" stroke-width="0.22">100</text>
<line x1="504.30" y1="69.60" x2="511.00" y2="69.60" stroke="#000" stroke-width="1.0"/>
<text x="503.90" y="72.40" font-size="7.7" text-anchor="end" fill="#000" stroke="#000" stroke-width="0.22">80</text>
<line x1="504.30" y1="94.60" x2="511.00" y2="94.60" stroke="#000" stroke-width="1.0"/>
<text x="503.90" y="97.40" font-size="7.7" text-anchor="end" fill="#000" stroke="#000" stroke-width="0.22">60</text>
<line x1="504.30" y1="119.60" x2="511.00" y2="119.60" stroke="#000" stroke-width="1.0"/>
<text x="503.90" y="122.40" font-size="7.7" text-anchor="end" fill="#000" stroke="#000" stroke-width="0.22">40</text>
<line x1="508.00" y1="147.50" x2="511.00" y2="147.50" stroke="#555" stroke-width="0.8"/>
<line x1="508.00" y1="141.62" x2="511.00" y2="141.62" stroke="#555" stroke-width="0.8"/>
<line x1="508.00" y1="135.75" x2="511.00" y2="135.75" stroke="#555" stroke-width="0.8"/>
<line x1="508.00" y1="129.88" x2="511.00" y2="129.88" stroke="#555" stroke-width="0.8"/>
<line x1="508.00" y1="124.00" x2="511.00" y2="124.00" stroke="#555" stroke-width="0.8"/>
<line x1="504.30" y1="124.00" x2="511.00" y2="124.00" stroke="#000" stroke-width="1.0"/>
<text x="503.90" y="126.80" font-size="7.7" text-anchor="end" fill="#000" stroke="#000" stroke-width="0.22">40</text>
<line x1="504.30" y1="135.75" x2="511.00" y2="135.75" stroke="#000" stroke-width="1.0"/>
<text x="503.90" y="138.55" font-size="7.7" text-anchor="end" fill="#000" stroke="#000" stroke-width="0.22">20</text>
<line x1="504.30" y1="147.50" x2="511.00" y2="147.50" stroke="#000" stroke-width="1.0"/>
<text x="503.90" y="150.30" font-size="7.7" text-anchor="end" fill="#000" stroke="#000" stroke-width="0.22">0</text>
<text x="490.60" y="90.90" font-size="7.9" text-anchor="middle" fill="#000" transform="rotate(-90 490.60 90.90)" stroke="#000" stroke-width="0.22">Fraction of total (%)</text>
<rect x="515.40" y="44.60" width="7.00" height="45.00" fill="#c3c3c3" stroke="#949494" stroke-width="0.65"/>
<rect x="515.40" y="89.60" width="7.00" height="30.00" fill="#000" stroke="none" stroke-width="0.6"/>
<rect x="515.40" y="124.00" width="7.00" height="23.50" fill="#000" stroke="none" stroke-width="0.6"/>
<line x1="518.90" y1="147.50" x2="518.90" y2="150.50" stroke="#000" stroke-width="1.0"/>
<text x="522.10" y="156.30" font-size="9.0" text-anchor="end" fill="#000" transform="rotate(-90 522.10 156.30)" stroke="#000" stroke-width="0.22">WT</text>
<rect x="526.00" y="44.60" width="7.00" height="34.12" fill="#c3c3c3" stroke="#949494" stroke-width="0.65"/>
<rect x="526.00" y="78.72" width="7.00" height="40.88" fill="#000" stroke="none" stroke-width="0.6"/>
<rect x="526.00" y="124.00" width="7.00" height="23.50" fill="#000" stroke="none" stroke-width="0.6"/>
<line x1="529.50" y1="147.50" x2="529.50" y2="150.50" stroke="#000" stroke-width="1.0"/>
<text x="532.70" y="156.30" font-size="9.0" text-anchor="end" fill="#000" transform="rotate(-90 532.70 156.30)" stroke="#000" stroke-width="0.22">+ ev</text>
<rect x="536.60" y="44.60" width="7.00" height="52.62" fill="#c3c3c3" stroke="#949494" stroke-width="0.65"/>
<rect x="536.60" y="97.22" width="7.00" height="22.38" fill="#000" stroke="none" stroke-width="0.6"/>
<rect x="536.60" y="124.00" width="7.00" height="23.50" fill="#000" stroke="none" stroke-width="0.6"/>
<line x1="540.10" y1="147.50" x2="540.10" y2="150.50" stroke="#000" stroke-width="1.0"/>
<text x="543.30" y="156.30" font-size="9.0" text-anchor="end" fill="#000" transform="rotate(-90 543.30 156.30)" stroke="#000" stroke-width="0.22">+A38-WT</text>
<rect x="547.20" y="44.60" width="7.00" height="24.50" fill="#c3c3c3" stroke="#949494" stroke-width="0.65"/>
<rect x="547.20" y="69.10" width="7.00" height="50.50" fill="#000" stroke="none" stroke-width="0.6"/>
<rect x="547.20" y="124.00" width="7.00" height="23.50" fill="#000" stroke="none" stroke-width="0.6"/>
<line x1="550.70" y1="147.50" x2="550.70" y2="150.50" stroke="#000" stroke-width="1.0"/>
<text x="553.90" y="156.30" font-size="9.0" text-anchor="end" fill="#000" transform="rotate(-90 553.90 156.30)" stroke="#000" stroke-width="0.22">+A38-R134C</text>
<rect x="557.80" y="44.60" width="7.00" height="36.25" fill="#c3c3c3" stroke="#949494" stroke-width="0.65"/>
<rect x="557.80" y="80.85" width="7.00" height="38.75" fill="#000" stroke="none" stroke-width="0.6"/>
<rect x="557.80" y="124.00" width="7.00" height="23.50" fill="#000" stroke="none" stroke-width="0.6"/>
<line x1="561.30" y1="147.50" x2="561.30" y2="150.50" stroke="#000" stroke-width="1.0"/>
<text x="564.50" y="156.30" font-size="9.0" text-anchor="end" fill="#000" transform="rotate(-90 564.50 156.30)" stroke="#000" stroke-width="0.22"><tspan font-style="italic">SFXN1</tspan><tspan font-size="5" dy="-3.2">-/-</tspan></text>
<rect x="568.40" y="44.60" width="7.00" height="36.25" fill="#c3c3c3" stroke="#949494" stroke-width="0.65"/>
<rect x="568.40" y="80.85" width="7.00" height="38.75" fill="#000" stroke="none" stroke-width="0.6"/>
<rect x="568.40" y="124.00" width="7.00" height="23.50" fill="#000" stroke="none" stroke-width="0.6"/>
<line x1="571.90" y1="147.50" x2="571.90" y2="150.50" stroke="#000" stroke-width="1.0"/>
<text x="575.10" y="156.30" font-size="9.0" text-anchor="end" fill="#000" transform="rotate(-90 575.10 156.30)" stroke="#000" stroke-width="0.22"><tspan font-style="italic">SHMT1</tspan><tspan font-size="5" dy="-3.2">-/-</tspan></text>
<rect x="579.00" y="44.60" width="7.00" height="75.00" fill="#000" stroke="none" stroke-width="0.6"/>
<rect x="579.00" y="124.00" width="7.00" height="23.50" fill="#000" stroke="none" stroke-width="0.6"/>
<line x1="582.50" y1="147.50" x2="582.50" y2="150.50" stroke="#000" stroke-width="1.0"/>
<text x="585.70" y="156.30" font-size="9.0" text-anchor="end" fill="#000" transform="rotate(-90 585.70 156.30)" stroke="#000" stroke-width="0.22"><tspan font-style="italic">SHMT2</tspan><tspan font-size="5" dy="-3.2">-/-</tspan></text>
<line x1="518.90" y1="44.60" x2="518.90" y2="44.10" stroke="#777" stroke-width="0.7200000000000001"/>
<line x1="516.90" y1="44.10" x2="520.90" y2="44.10" stroke="#777" stroke-width="0.8"/>
<line x1="518.90" y1="89.60" x2="518.90" y2="89.10" stroke="#555" stroke-width="0.7200000000000001"/>
<line x1="516.90" y1="89.10" x2="520.90" y2="89.10" stroke="#555" stroke-width="0.8"/>
<line x1="529.50" y1="44.60" x2="529.50" y2="43.50" stroke="#777" stroke-width="0.7200000000000001"/>
<line x1="527.50" y1="43.50" x2="531.50" y2="43.50" stroke="#777" stroke-width="0.8"/>
<line x1="529.50" y1="78.72" x2="529.50" y2="77.62" stroke="#555" stroke-width="0.7200000000000001"/>
<line x1="527.50" y1="77.62" x2="531.50" y2="77.62" stroke="#555" stroke-width="0.8"/>
<circle cx="526.05" cy="39.30" r="0.80" fill="#000" stroke="none" stroke-width="0.6"/>
<circle cx="528.35" cy="39.30" r="0.80" fill="#000" stroke="none" stroke-width="0.6"/>
<circle cx="530.65" cy="39.30" r="0.80" fill="#000" stroke="none" stroke-width="0.6"/>
<circle cx="532.95" cy="39.30" r="0.80" fill="#000" stroke="none" stroke-width="0.6"/>
<line x1="540.10" y1="44.60" x2="540.10" y2="44.10" stroke="#777" stroke-width="0.7200000000000001"/>
<line x1="538.10" y1="44.10" x2="542.10" y2="44.10" stroke="#777" stroke-width="0.8"/>
<line x1="540.10" y1="97.22" x2="540.10" y2="96.72" stroke="#555" stroke-width="0.7200000000000001"/>
<line x1="538.10" y1="96.72" x2="542.10" y2="96.72" stroke="#555" stroke-width="0.8"/>
<circle cx="540.10" cy="39.30" r="0.80" fill="#000" stroke="none" stroke-width="0.6"/>
<line x1="550.70" y1="44.60" x2="550.70" y2="43.00" stroke="#777" stroke-width="0.7200000000000001"/>
<line x1="548.70" y1="43.00" x2="552.70" y2="43.00" stroke="#777" stroke-width="0.8"/>
<line x1="550.70" y1="69.10" x2="550.70" y2="67.40" stroke="#555" stroke-width="0.7200000000000001"/>
<line x1="548.70" y1="67.40" x2="552.70" y2="67.40" stroke="#555" stroke-width="0.8"/>
<circle cx="547.25" cy="39.30" r="0.80" fill="#000" stroke="none" stroke-width="0.6"/>
<circle cx="549.55" cy="39.30" r="0.80" fill="#000" stroke="none" stroke-width="0.6"/>
<circle cx="551.85" cy="39.30" r="0.80" fill="#000" stroke="none" stroke-width="0.6"/>
<circle cx="554.15" cy="39.30" r="0.80" fill="#000" stroke="none" stroke-width="0.6"/>
<line x1="561.30" y1="44.60" x2="561.30" y2="44.10" stroke="#777" stroke-width="0.7200000000000001"/>
<line x1="559.30" y1="44.10" x2="563.30" y2="44.10" stroke="#777" stroke-width="0.8"/>
<line x1="561.30" y1="80.85" x2="561.30" y2="80.35" stroke="#555" stroke-width="0.7200000000000001"/>
<line x1="559.30" y1="80.35" x2="563.30" y2="80.35" stroke="#555" stroke-width="0.8"/>
<circle cx="557.85" cy="39.30" r="0.80" fill="#000" stroke="none" stroke-width="0.6"/>
<circle cx="560.15" cy="39.30" r="0.80" fill="#000" stroke="none" stroke-width="0.6"/>
<circle cx="562.45" cy="39.30" r="0.80" fill="#000" stroke="none" stroke-width="0.6"/>
<circle cx="564.75" cy="39.30" r="0.80" fill="#000" stroke="none" stroke-width="0.6"/>
<line x1="571.90" y1="44.60" x2="571.90" y2="42.40" stroke="#777" stroke-width="0.7200000000000001"/>
<line x1="569.90" y1="42.40" x2="573.90" y2="42.40" stroke="#777" stroke-width="0.8"/>
<line x1="571.90" y1="80.85" x2="571.90" y2="78.25" stroke="#555" stroke-width="0.7200000000000001"/>
<line x1="569.90" y1="78.25" x2="573.90" y2="78.25" stroke="#555" stroke-width="0.8"/>
<text x="571.90" y="40.60" font-size="4.6" text-anchor="middle" fill="#000" font-weight="bold">ns</text>
<circle cx="579.05" cy="39.30" r="0.80" fill="#000" stroke="none" stroke-width="0.6"/>
<circle cx="581.35" cy="39.30" r="0.80" fill="#000" stroke="none" stroke-width="0.6"/>
<circle cx="583.65" cy="39.30" r="0.80" fill="#000" stroke="none" stroke-width="0.6"/>
<circle cx="585.95" cy="39.30" r="0.80" fill="#000" stroke="none" stroke-width="0.6"/>
<path d="M529.50 36.80 V34.50 H540.10 V36.80" fill="none" stroke="#444" stroke-width="0.7"/>
<circle cx="531.35" cy="32.40" r="0.75" fill="#000" stroke="none" stroke-width="0.6"/>
<circle cx="533.65" cy="32.40" r="0.75" fill="#000" stroke="none" stroke-width="0.6"/>
<circle cx="535.95" cy="32.40" r="0.75" fill="#000" stroke="none" stroke-width="0.6"/>
<circle cx="538.25" cy="32.40" r="0.75" fill="#000" stroke="none" stroke-width="0.6"/>
<rect x="599.80" y="44.60" width="7.00" height="40.62" fill="#c3c3c3" stroke="#949494" stroke-width="0.65"/>
<rect x="599.80" y="85.22" width="7.00" height="34.38" fill="#000" stroke="none" stroke-width="0.6"/>
<rect x="599.80" y="124.00" width="7.00" height="23.50" fill="#000" stroke="none" stroke-width="0.6"/>
<line x1="603.30" y1="147.50" x2="603.30" y2="150.50" stroke="#000" stroke-width="1.0"/>
<text x="606.50" y="156.30" font-size="9.0" text-anchor="end" fill="#000" transform="rotate(-90 606.50 156.30)" stroke="#000" stroke-width="0.22">WT</text>
<rect x="610.40" y="44.60" width="7.00" height="39.12" fill="#c3c3c3" stroke="#949494" stroke-width="0.65"/>
<rect x="610.40" y="83.72" width="7.00" height="35.88" fill="#000" stroke="none" stroke-width="0.6"/>
<rect x="610.40" y="124.00" width="7.00" height="23.50" fill="#000" stroke="none" stroke-width="0.6"/>
<line x1="613.90" y1="147.50" x2="613.90" y2="150.50" stroke="#000" stroke-width="1.0"/>
<text x="617.10" y="156.30" font-size="9.0" text-anchor="end" fill="#000" transform="rotate(-90 617.10 156.30)" stroke="#000" stroke-width="0.22">+ ev</text>
<rect x="621.00" y="44.60" width="7.00" height="42.37" fill="#c3c3c3" stroke="#949494" stroke-width="0.65"/>
<rect x="621.00" y="86.97" width="7.00" height="32.62" fill="#000" stroke="none" stroke-width="0.6"/>
<rect x="621.00" y="124.00" width="7.00" height="23.50" fill="#000" stroke="none" stroke-width="0.6"/>
<line x1="624.50" y1="147.50" x2="624.50" y2="150.50" stroke="#000" stroke-width="1.0"/>
<text x="627.70" y="156.30" font-size="9.0" text-anchor="end" fill="#000" transform="rotate(-90 627.70 156.30)" stroke="#000" stroke-width="0.22">+A38-WT</text>
<rect x="631.60" y="44.60" width="7.00" height="41.50" fill="#c3c3c3" stroke="#949494" stroke-width="0.65"/>
<rect x="631.60" y="86.10" width="7.00" height="33.50" fill="#000" stroke="none" stroke-width="0.6"/>
<rect x="631.60" y="124.00" width="7.00" height="23.50" fill="#000" stroke="none" stroke-width="0.6"/>
<line x1="635.10" y1="147.50" x2="635.10" y2="150.50" stroke="#000" stroke-width="1.0"/>
<text x="638.30" y="156.30" font-size="9.0" text-anchor="end" fill="#000" transform="rotate(-90 638.30 156.30)" stroke="#000" stroke-width="0.22">+A38-R134C</text>
<rect x="642.20" y="44.60" width="7.00" height="28.25" fill="#c3c3c3" stroke="#949494" stroke-width="0.65"/>
<rect x="642.20" y="72.85" width="7.00" height="46.75" fill="#000" stroke="none" stroke-width="0.6"/>
<rect x="642.20" y="124.00" width="7.00" height="23.50" fill="#000" stroke="none" stroke-width="0.6"/>
<line x1="645.70" y1="147.50" x2="645.70" y2="150.50" stroke="#000" stroke-width="1.0"/>
<text x="648.90" y="156.30" font-size="9.0" text-anchor="end" fill="#000" transform="rotate(-90 648.90 156.30)" stroke="#000" stroke-width="0.22"><tspan font-style="italic">SFXN1</tspan><tspan font-size="5" dy="-3.2">-/-</tspan></text>
<rect x="652.80" y="44.60" width="7.00" height="36.12" fill="#c3c3c3" stroke="#949494" stroke-width="0.65"/>
<rect x="652.80" y="80.72" width="7.00" height="38.88" fill="#000" stroke="none" stroke-width="0.6"/>
<rect x="652.80" y="124.00" width="7.00" height="23.50" fill="#000" stroke="none" stroke-width="0.6"/>
<line x1="656.30" y1="147.50" x2="656.30" y2="150.50" stroke="#000" stroke-width="1.0"/>
<text x="659.50" y="156.30" font-size="9.0" text-anchor="end" fill="#000" transform="rotate(-90 659.50 156.30)" stroke="#000" stroke-width="0.22"><tspan font-style="italic">SHMT1</tspan><tspan font-size="5" dy="-3.2">-/-</tspan></text>
<rect x="663.40" y="44.60" width="7.00" height="75.00" fill="#000" stroke="none" stroke-width="0.6"/>
<rect x="663.40" y="124.00" width="7.00" height="23.50" fill="#000" stroke="none" stroke-width="0.6"/>
<line x1="666.90" y1="147.50" x2="666.90" y2="150.50" stroke="#000" stroke-width="1.0"/>
<text x="670.10" y="156.30" font-size="9.0" text-anchor="end" fill="#000" transform="rotate(-90 670.10 156.30)" stroke="#000" stroke-width="0.22"><tspan font-style="italic">SHMT2</tspan><tspan font-size="5" dy="-3.2">-/-</tspan></text>
<line x1="603.30" y1="44.60" x2="603.30" y2="44.10" stroke="#777" stroke-width="0.7200000000000001"/>
<line x1="601.30" y1="44.10" x2="605.30" y2="44.10" stroke="#777" stroke-width="0.8"/>
<line x1="603.30" y1="85.22" x2="603.30" y2="84.12" stroke="#555" stroke-width="0.7200000000000001"/>
<line x1="601.30" y1="84.12" x2="605.30" y2="84.12" stroke="#555" stroke-width="0.8"/>
<line x1="613.90" y1="44.60" x2="613.90" y2="41.30" stroke="#777" stroke-width="0.7200000000000001"/>
<line x1="611.90" y1="41.30" x2="615.90" y2="41.30" stroke="#777" stroke-width="0.8"/>
<line x1="613.90" y1="83.72" x2="613.90" y2="80.42" stroke="#555" stroke-width="0.7200000000000001"/>
<line x1="611.90" y1="80.42" x2="615.90" y2="80.42" stroke="#555" stroke-width="0.8"/>
<text x="613.90" y="40.60" font-size="4.6" text-anchor="middle" fill="#000" font-weight="bold">ns</text>
<line x1="624.50" y1="44.60" x2="624.50" y2="42.40" stroke="#777" stroke-width="0.7200000000000001"/>
<line x1="622.50" y1="42.40" x2="626.50" y2="42.40" stroke="#777" stroke-width="0.8"/>
<line x1="624.50" y1="86.97" x2="624.50" y2="84.77" stroke="#555" stroke-width="0.7200000000000001"/>
<line x1="622.50" y1="84.77" x2="626.50" y2="84.77" stroke="#555" stroke-width="0.8"/>
<text x="624.50" y="40.60" font-size="4.6" text-anchor="middle" fill="#000" font-weight="bold">ns</text>
<line x1="635.10" y1="44.60" x2="635.10" y2="42.40" stroke="#777" stroke-width="0.7200000000000001"/>
<line x1="633.10" y1="42.40" x2="637.10" y2="42.40" stroke="#777" stroke-width="0.8"/>
<line x1="635.10" y1="86.10" x2="635.10" y2="85.60" stroke="#555" stroke-width="0.7200000000000001"/>
<line x1="633.10" y1="85.60" x2="637.10" y2="85.60" stroke="#555" stroke-width="0.8"/>
<text x="635.10" y="40.60" font-size="4.6" text-anchor="middle" fill="#000" font-weight="bold">ns</text>
<line x1="645.70" y1="44.60" x2="645.70" y2="43.60" stroke="#777" stroke-width="0.7200000000000001"/>
<line x1="643.70" y1="43.60" x2="647.70" y2="43.60" stroke="#777" stroke-width="0.8"/>
<line x1="645.70" y1="72.85" x2="645.70" y2="71.35" stroke="#555" stroke-width="0.7200000000000001"/>
<line x1="643.70" y1="71.35" x2="647.70" y2="71.35" stroke="#555" stroke-width="0.8"/>
<circle cx="642.25" cy="39.30" r="0.80" fill="#000" stroke="none" stroke-width="0.6"/>
<circle cx="644.55" cy="39.30" r="0.80" fill="#000" stroke="none" stroke-width="0.6"/>
<circle cx="646.85" cy="39.30" r="0.80" fill="#000" stroke="none" stroke-width="0.6"/>
<circle cx="649.15" cy="39.30" r="0.80" fill="#000" stroke="none" stroke-width="0.6"/>
<line x1="656.30" y1="44.60" x2="656.30" y2="44.10" stroke="#777" stroke-width="0.7200000000000001"/>
<line x1="654.30" y1="44.10" x2="658.30" y2="44.10" stroke="#777" stroke-width="0.8"/>
<line x1="656.30" y1="80.72" x2="656.30" y2="79.32" stroke="#555" stroke-width="0.7200000000000001"/>
<line x1="654.30" y1="79.32" x2="658.30" y2="79.32" stroke="#555" stroke-width="0.8"/>
<circle cx="655.15" cy="39.30" r="0.80" fill="#000" stroke="none" stroke-width="0.6"/>
<circle cx="657.45" cy="39.30" r="0.80" fill="#000" stroke="none" stroke-width="0.6"/>
<circle cx="663.45" cy="39.30" r="0.80" fill="#000" stroke="none" stroke-width="0.6"/>
<circle cx="665.75" cy="39.30" r="0.80" fill="#000" stroke="none" stroke-width="0.6"/>
<circle cx="668.05" cy="39.30" r="0.80" fill="#000" stroke="none" stroke-width="0.6"/>
<circle cx="670.35" cy="39.30" r="0.80" fill="#000" stroke="none" stroke-width="0.6"/>
<path d="M613.90 36.80 V34.50 H624.50 V36.80" fill="none" stroke="#444" stroke-width="0.7"/>
<text x="619.20" y="33.90" font-size="4.6" text-anchor="middle" fill="#000" font-weight="bold">ns</text>
<path d="M526.50 212.10 V214.60 H558.80 V212.10" fill="none" stroke="#000" stroke-width="0.9"/>
<text x="518.00" y="224.60" font-size="9.1" text-anchor="start" fill="#000" font-style="italic" stroke="#000" stroke-width="0.22">SLC25A38<tspan font-size="5" dy="-3.5">-/-</tspan></text>
<path d="M513.60 228.80 V232.80 H585.50 V228.80" fill="none" stroke="#000" stroke-width="1.0"/>
<text x="549.00" y="243.30" font-size="11.2" text-anchor="middle" fill="#000" stroke="#000" stroke-width="0.22">B6 low</text>
<path d="M610.30 212.10 V214.60 H642.00 V212.10" fill="none" stroke="#000" stroke-width="0.9"/>
<text x="601.80" y="224.60" font-size="9.1" text-anchor="start" fill="#000" font-style="italic" stroke="#000" stroke-width="0.22">SLC25A38<tspan font-size="5" dy="-3.5">-/-</tspan></text>
<path d="M601.20 228.80 V232.80 H672.40 V228.80" fill="none" stroke="#000" stroke-width="1.0"/>
<text x="638.50" y="243.30" font-size="11.2" text-anchor="middle" fill="#000" stroke="#000" stroke-width="0.22">B6 high</text>
<text x="246.00" y="270.00" font-size="19.3" text-anchor="start" fill="#000" font-weight="bold" stroke="#000" stroke-width="0.3">D</text>
<text x="259.60" y="275.80" font-size="10.5" text-anchor="start" fill="#000" font-weight="bold">ii</text>
<line x1="311.50" y1="275.60" x2="311.50" y2="383.00" stroke="#000" stroke-width="1.1"/>
<line x1="311.00" y1="382.50" x2="474.00" y2="382.50" stroke="#000" stroke-width="1.1"/>
<line x1="307.30" y1="382.50" x2="311.50" y2="382.50" stroke="#000" stroke-width="1.0"/>
<text x="305.50" y="385.20" font-size="7.5" text-anchor="end" fill="#000" stroke="#000" stroke-width="0.22">0</text>
<line x1="307.30" y1="355.90" x2="311.50" y2="355.90" stroke="#000" stroke-width="1.0"/>
<text x="305.50" y="358.60" font-size="7.5" text-anchor="end" fill="#000" stroke="#000" stroke-width="0.22">25</text>
<line x1="307.30" y1="329.30" x2="311.50" y2="329.30" stroke="#000" stroke-width="1.0"/>
<text x="305.50" y="332.00" font-size="7.5" text-anchor="end" fill="#000" stroke="#000" stroke-width="0.22">50</text>
<line x1="307.30" y1="302.70" x2="311.50" y2="302.70" stroke="#000" stroke-width="1.0"/>
<text x="305.50" y="305.40" font-size="7.5" text-anchor="end" fill="#000" stroke="#000" stroke-width="0.22">75</text>
<line x1="307.30" y1="276.10" x2="311.50" y2="276.10" stroke="#000" stroke-width="1.0"/>
<text x="305.50" y="278.80" font-size="7.5" text-anchor="end" fill="#000" stroke="#000" stroke-width="0.22">100</text>
<text x="291.10" y="323.40" font-size="7.9" text-anchor="middle" fill="#000" transform="rotate(-90 291.10 323.40)" stroke="#000" stroke-width="0.22">Fraction of total (%)</text>
<rect x="314.90" y="276.10" width="6.80" height="83.10" fill="#008b8b" stroke="none" stroke-width="0.6"/>
<rect x="314.90" y="359.20" width="6.80" height="23.30" fill="#000" stroke="none" stroke-width="0.6"/>
<line x1="318.30" y1="382.50" x2="318.30" y2="386.00" stroke="#000" stroke-width="1.0"/>
<text x="321.50" y="392.00" font-size="8.8" text-anchor="end" fill="#000" transform="rotate(-90 321.50 392.00)" stroke="#000" stroke-width="0.22">WT</text>
<rect x="325.50" y="276.10" width="6.80" height="39.79" fill="#ffb8b8" stroke="#c29c9c" stroke-width="0.6"/>
<rect x="325.50" y="315.89" width="6.80" height="41.71" fill="#008b8b" stroke="none" stroke-width="0.6"/>
<rect x="325.50" y="357.60" width="6.80" height="24.90" fill="#000" stroke="none" stroke-width="0.6"/>
<line x1="328.90" y1="382.50" x2="328.90" y2="386.00" stroke="#000" stroke-width="1.0"/>
<text x="332.10" y="392.00" font-size="8.8" text-anchor="end" fill="#000" transform="rotate(-90 332.10 392.00)" stroke="#000" stroke-width="0.22">+ ev</text>
<rect x="336.10" y="276.10" width="6.80" height="79.37" fill="#008b8b" stroke="none" stroke-width="0.6"/>
<rect x="336.10" y="355.47" width="6.80" height="27.03" fill="#000" stroke="none" stroke-width="0.6"/>
<line x1="339.50" y1="382.50" x2="339.50" y2="386.00" stroke="#000" stroke-width="1.0"/>
<text x="342.70" y="392.00" font-size="8.8" text-anchor="end" fill="#000" transform="rotate(-90 342.70 392.00)" stroke="#000" stroke-width="0.22">+A38-WT</text>
<rect x="346.70" y="276.10" width="6.80" height="56.92" fill="#ffb8b8" stroke="#c29c9c" stroke-width="0.6"/>
<rect x="346.70" y="333.02" width="6.80" height="24.58" fill="#008b8b" stroke="none" stroke-width="0.6"/>
<rect x="346.70" y="357.60" width="6.80" height="24.90" fill="#000" stroke="none" stroke-width="0.6"/>
<line x1="350.10" y1="382.50" x2="350.10" y2="386.00" stroke="#000" stroke-width="1.0"/>
<text x="353.30" y="392.00" font-size="8.8" text-anchor="end" fill="#000" transform="rotate(-90 353.30 392.00)" stroke="#000" stroke-width="0.22">+A38-R134C</text>
<rect x="357.30" y="276.10" width="6.80" height="32.66" fill="#ffb8b8" stroke="#c29c9c" stroke-width="0.6"/>
<rect x="357.30" y="308.76" width="6.80" height="45.75" fill="#008b8b" stroke="none" stroke-width="0.6"/>
<rect x="357.30" y="354.52" width="6.80" height="27.98" fill="#000" stroke="none" stroke-width="0.6"/>
<line x1="360.70" y1="382.50" x2="360.70" y2="386.00" stroke="#000" stroke-width="1.0"/>
<text x="363.90" y="392.00" font-size="8.8" text-anchor="end" fill="#000" transform="rotate(-90 363.90 392.00)" stroke="#000" stroke-width="0.22"><tspan font-style="italic">SFXN1</tspan><tspan font-size="5" dy="-3.2">-/-</tspan></text>
<rect x="367.90" y="276.10" width="6.80" height="74.69" fill="#008b8b" stroke="none" stroke-width="0.6"/>
<rect x="367.90" y="350.79" width="6.80" height="31.71" fill="#000" stroke="none" stroke-width="0.6"/>
<line x1="371.30" y1="382.50" x2="371.30" y2="386.00" stroke="#000" stroke-width="1.0"/>
<text x="374.50" y="392.00" font-size="8.8" text-anchor="end" fill="#000" transform="rotate(-90 374.50 392.00)" stroke="#000" stroke-width="0.22"><tspan font-style="italic">SHMT1</tspan><tspan font-size="5" dy="-3.2">-/-</tspan></text>
<rect x="378.50" y="276.10" width="6.80" height="70.76" fill="#ffb8b8" stroke="#c29c9c" stroke-width="0.6"/>
<rect x="378.50" y="346.86" width="6.80" height="1.38" fill="#008b8b" stroke="none" stroke-width="0.6"/>
<rect x="378.50" y="348.24" width="6.80" height="34.26" fill="#000" stroke="none" stroke-width="0.6"/>
<line x1="381.90" y1="382.50" x2="381.90" y2="386.00" stroke="#000" stroke-width="1.0"/>
<text x="385.10" y="392.00" font-size="8.8" text-anchor="end" fill="#000" transform="rotate(-90 385.10 392.00)" stroke="#000" stroke-width="0.22"><tspan font-style="italic">SHMT2</tspan><tspan font-size="5" dy="-3.2">-/-</tspan></text>
<line x1="318.30" y1="276.10" x2="318.30" y2="272.20" stroke="#222" stroke-width="0.81"/>
<line x1="316.30" y1="272.20" x2="320.30" y2="272.20" stroke="#222" stroke-width="0.9"/>
<line x1="318.30" y1="359.20" x2="318.30" y2="355.50" stroke="#222" stroke-width="0.81"/>
<line x1="316.30" y1="355.50" x2="320.30" y2="355.50" stroke="#222" stroke-width="0.9"/>
<line x1="328.90" y1="276.10" x2="328.90" y2="275.00" stroke="#222" stroke-width="0.81"/>
<line x1="326.90" y1="275.00" x2="330.90" y2="275.00" stroke="#222" stroke-width="0.9"/>
<line x1="328.90" y1="315.89" x2="328.90" y2="313.79" stroke="#222" stroke-width="0.81"/>
<line x1="326.90" y1="313.79" x2="330.90" y2="313.79" stroke="#222" stroke-width="0.9"/>
<line x1="328.90" y1="357.60" x2="328.90" y2="356.30" stroke="#222" stroke-width="0.81"/>
<line x1="326.90" y1="356.30" x2="330.90" y2="356.30" stroke="#222" stroke-width="0.9"/>
<circle cx="325.45" cy="264.90" r="0.80" fill="#000" stroke="none" stroke-width="0.6"/>
<circle cx="327.75" cy="264.90" r="0.80" fill="#000" stroke="none" stroke-width="0.6"/>
<circle cx="330.05" cy="264.90" r="0.80" fill="#000" stroke="none" stroke-width="0.6"/>
<circle cx="332.35" cy="264.90" r="0.80" fill="#000" stroke="none" stroke-width="0.6"/>
<line x1="339.50" y1="276.10" x2="339.50" y2="272.20" stroke="#222" stroke-width="0.81"/>
<line x1="337.50" y1="272.20" x2="341.50" y2="272.20" stroke="#222" stroke-width="0.9"/>
<line x1="339.50" y1="355.47" x2="339.50" y2="350.87" stroke="#222" stroke-width="0.81"/>
<line x1="337.50" y1="350.87" x2="341.50" y2="350.87" stroke="#222" stroke-width="0.9"/>
<text x="339.50" y="266.50" font-size="6.3" text-anchor="middle" fill="#000" stroke="#000" stroke-width="0.15">ns</text>
<line x1="350.10" y1="276.10" x2="350.10" y2="275.60" stroke="#222" stroke-width="0.81"/>
<line x1="348.10" y1="275.60" x2="352.10" y2="275.60" stroke="#222" stroke-width="0.9"/>
<line x1="350.10" y1="333.02" x2="350.10" y2="332.52" stroke="#222" stroke-width="0.81"/>
<line x1="348.10" y1="332.52" x2="352.10" y2="332.52" stroke="#222" stroke-width="0.9"/>
<line x1="350.10" y1="357.60" x2="350.10" y2="357.10" stroke="#222" stroke-width="0.81"/>
<line x1="348.10" y1="357.10" x2="352.10" y2="357.10" stroke="#222" stroke-width="0.9"/>
<circle cx="346.65" cy="264.90" r="0.80" fill="#000" stroke="none" stroke-width="0.6"/>
<circle cx="348.95" cy="264.90" r="0.80" fill="#000" stroke="none" stroke-width="0.6"/>
<circle cx="351.25" cy="264.90" r="0.80" fill="#000" stroke="none" stroke-width="0.6"/>
<circle cx="353.55" cy="264.90" r="0.80" fill="#000" stroke="none" stroke-width="0.6"/>
<line x1="360.70" y1="276.10" x2="360.70" y2="271.50" stroke="#222" stroke-width="0.81"/>
<line x1="358.70" y1="271.50" x2="362.70" y2="271.50" stroke="#222" stroke-width="0.9"/>
<line x1="360.70" y1="308.76" x2="360.70" y2="302.56" stroke="#222" stroke-width="0.81"/>
<line x1="358.70" y1="302.56" x2="362.70" y2="302.56" stroke="#222" stroke-width="0.9"/>
<line x1="360.70" y1="354.52" x2="360.70" y2="352.32" stroke="#222" stroke-width="0.81"/>
<line x1="358.70" y1="352.32" x2="362.70" y2="352.32" stroke="#222" stroke-width="0.9"/>
<circle cx="357.25" cy="264.90" r="0.80" fill="#000" stroke="none" stroke-width="0.6"/>
<circle cx="359.55" cy="264.90" r="0.80" fill="#000" stroke="none" stroke-width="0.6"/>
<circle cx="361.85" cy="264.90" r="0.80" fill="#000" stroke="none" stroke-width="0.6"/>
<circle cx="364.15" cy="264.90" r="0.80" fill="#000" stroke="none" stroke-width="0.6"/>
<line x1="371.30" y1="276.10" x2="371.30" y2="273.10" stroke="#222" stroke-width="0.81"/>
<line x1="369.30" y1="273.10" x2="373.30" y2="273.10" stroke="#222" stroke-width="0.9"/>
<line x1="371.30" y1="350.79" x2="371.30" y2="346.79" stroke="#222" stroke-width="0.81"/>
<line x1="369.30" y1="346.79" x2="373.30" y2="346.79" stroke="#222" stroke-width="0.9"/>
<text x="371.30" y="266.50" font-size="6.3" text-anchor="middle" fill="#000" stroke="#000" stroke-width="0.15">ns</text>
<line x1="381.90" y1="276.10" x2="381.90" y2="274.00" stroke="#222" stroke-width="0.81"/>
<line x1="379.90" y1="274.00" x2="383.90" y2="274.00" stroke="#222" stroke-width="0.9"/>
<line x1="379.90" y1="346.86" x2="383.90" y2="346.86" stroke="#222" stroke-width="0.9"/>
<line x1="381.90" y1="348.24" x2="381.90" y2="346.74" stroke="#222" stroke-width="0.81"/>
<line x1="379.90" y1="346.74" x2="383.90" y2="346.74" stroke="#222" stroke-width="0.9"/>
<circle cx="378.45" cy="264.90" r="0.80" fill="#000" stroke="none" stroke-width="0.6"/>
<circle cx="380.75" cy="264.90" r="0.80" fill="#000" stroke="none" stroke-width="0.6"/>
<circle cx="383.05" cy="264.90" r="0.80" fill="#000" stroke="none" stroke-width="0.6"/>
<circle cx="385.35" cy="264.90" r="0.80" fill="#000" stroke="none" stroke-width="0.6"/>
<path d="M328.90 260.60 V258.20 H339.50 V260.60" fill="none" stroke="#444" stroke-width="0.7"/>
<circle cx="330.75" cy="256.20" r="0.75" fill="#000" stroke="none" stroke-width="0.6"/>
<circle cx="333.05" cy="256.20" r="0.75" fill="#000" stroke="none" stroke-width="0.6"/>
<circle cx="335.35" cy="256.20" r="0.75" fill="#000" stroke="none" stroke-width="0.6"/>
<circle cx="337.65" cy="256.20" r="0.75" fill="#000" stroke="none" stroke-width="0.6"/>
<rect x="398.70" y="276.10" width="6.80" height="14.90" fill="#ffb8b8" stroke="#c29c9c" stroke-width="0.6"/>
<rect x="398.70" y="291.00" width="6.80" height="65.97" fill="#008b8b" stroke="none" stroke-width="0.6"/>
<rect x="398.70" y="356.96" width="6.80" height="25.54" fill="#000" stroke="none" stroke-width="0.6"/>
<line x1="402.10" y1="382.50" x2="402.10" y2="386.00" stroke="#000" stroke-width="1.0"/>
<text x="405.30" y="392.00" font-size="8.8" text-anchor="end" fill="#000" transform="rotate(-90 405.30 392.00)" stroke="#000" stroke-width="0.22">WT</text>
<rect x="409.30" y="276.10" width="6.80" height="10.21" fill="#ffb8b8" stroke="#c29c9c" stroke-width="0.6"/>
<rect x="409.30" y="286.31" width="6.80" height="62.35" fill="#008b8b" stroke="none" stroke-width="0.6"/>
<rect x="409.30" y="348.66" width="6.80" height="33.84" fill="#000" stroke="none" stroke-width="0.6"/>
<line x1="412.70" y1="382.50" x2="412.70" y2="386.00" stroke="#000" stroke-width="1.0"/>
<text x="415.90" y="392.00" font-size="8.8" text-anchor="end" fill="#000" transform="rotate(-90 415.90 392.00)" stroke="#000" stroke-width="0.22">+ ev</text>
<rect x="419.90" y="276.10" width="6.80" height="7.77" fill="#ffb8b8" stroke="#c29c9c" stroke-width="0.6"/>
<rect x="419.90" y="283.87" width="6.80" height="63.52" fill="#008b8b" stroke="none" stroke-width="0.6"/>
<rect x="419.90" y="347.39" width="6.80" height="35.11" fill="#000" stroke="none" stroke-width="0.6"/>
<line x1="423.30" y1="382.50" x2="423.30" y2="386.00" stroke="#000" stroke-width="1.0"/>
<text x="426.50" y="392.00" font-size="8.8" text-anchor="end" fill="#000" transform="rotate(-90 426.50 392.00)" stroke="#000" stroke-width="0.22">+A38-WT</text>
<rect x="430.50" y="276.10" width="6.80" height="9.36" fill="#ffb8b8" stroke="#c29c9c" stroke-width="0.6"/>
<rect x="430.50" y="285.46" width="6.80" height="64.37" fill="#008b8b" stroke="none" stroke-width="0.6"/>
<rect x="430.50" y="349.84" width="6.80" height="32.66" fill="#000" stroke="none" stroke-width="0.6"/>
<line x1="433.90" y1="382.50" x2="433.90" y2="386.00" stroke="#000" stroke-width="1.0"/>
<text x="437.10" y="392.00" font-size="8.8" text-anchor="end" fill="#000" transform="rotate(-90 437.10 392.00)" stroke="#000" stroke-width="0.22">+A38-R134C</text>
<rect x="441.10" y="276.10" width="6.80" height="52.03" fill="#ffb8b8" stroke="#c29c9c" stroke-width="0.6"/>
<rect x="441.10" y="328.13" width="6.80" height="23.30" fill="#008b8b" stroke="none" stroke-width="0.6"/>
<rect x="441.10" y="351.43" width="6.80" height="31.07" fill="#000" stroke="none" stroke-width="0.6"/>
<line x1="444.50" y1="382.50" x2="444.50" y2="386.00" stroke="#000" stroke-width="1.0"/>
<text x="447.70" y="392.00" font-size="8.8" text-anchor="end" fill="#000" transform="rotate(-90 447.70 392.00)" stroke="#000" stroke-width="0.22"><tspan font-style="italic">SFXN1</tspan><tspan font-size="5" dy="-3.2">-/-</tspan></text>
<rect x="451.70" y="276.10" width="6.80" height="0.74" fill="#ffb8b8" stroke="#c29c9c" stroke-width="0.6"/>
<rect x="451.70" y="276.84" width="6.80" height="71.82" fill="#008b8b" stroke="none" stroke-width="0.6"/>
<rect x="451.70" y="348.66" width="6.80" height="33.84" fill="#000" stroke="none" stroke-width="0.6"/>
<line x1="455.10" y1="382.50" x2="455.10" y2="386.00" stroke="#000" stroke-width="1.0"/>
<text x="458.30" y="392.00" font-size="8.8" text-anchor="end" fill="#000" transform="rotate(-90 458.30 392.00)" stroke="#000" stroke-width="0.22"><tspan font-style="italic">SHMT1</tspan><tspan font-size="5" dy="-3.2">-/-</tspan></text>
<rect x="462.30" y="276.10" width="6.80" height="57.99" fill="#ffb8b8" stroke="#c29c9c" stroke-width="0.6"/>
<rect x="462.30" y="334.09" width="6.80" height="0.53" fill="#008b8b" stroke="none" stroke-width="0.6"/>
<rect x="462.30" y="334.62" width="6.80" height="47.88" fill="#000" stroke="none" stroke-width="0.6"/>
<line x1="465.70" y1="382.50" x2="465.70" y2="386.00" stroke="#000" stroke-width="1.0"/>
<text x="468.90" y="392.00" font-size="8.8" text-anchor="end" fill="#000" transform="rotate(-90 468.90 392.00)" stroke="#000" stroke-width="0.22"><tspan font-style="italic">SHMT2</tspan><tspan font-size="5" dy="-3.2">-/-</tspan></text>
<line x1="402.10" y1="276.10" x2="402.10" y2="269.10" stroke="#222" stroke-width="0.81"/>
<line x1="400.10" y1="269.10" x2="404.10" y2="269.10" stroke="#222" stroke-width="0.9"/>
<line x1="402.10" y1="291.00" x2="402.10" y2="289.50" stroke="#222" stroke-width="0.81"/>
<line x1="400.10" y1="289.50" x2="404.10" y2="289.50" stroke="#222" stroke-width="0.9"/>
<line x1="402.10" y1="356.96" x2="402.10" y2="352.36" stroke="#222" stroke-width="0.81"/>
<line x1="400.10" y1="352.36" x2="404.10" y2="352.36" stroke="#222" stroke-width="0.9"/>
<line x1="412.70" y1="276.10" x2="412.70" y2="275.30" stroke="#222" stroke-width="0.81"/>
<line x1="410.70" y1="275.30" x2="414.70" y2="275.30" stroke="#222" stroke-width="0.9"/>
<line x1="412.70" y1="286.31" x2="412.70" y2="285.41" stroke="#222" stroke-width="0.81"/>
<line x1="410.70" y1="285.41" x2="414.70" y2="285.41" stroke="#222" stroke-width="0.9"/>
<line x1="412.70" y1="348.66" x2="412.70" y2="347.06" stroke="#222" stroke-width="0.81"/>
<line x1="410.70" y1="347.06" x2="414.70" y2="347.06" stroke="#222" stroke-width="0.9"/>
<text x="412.70" y="266.50" font-size="6.3" text-anchor="middle" fill="#000" stroke="#000" stroke-width="0.15">ns</text>
<line x1="423.30" y1="276.10" x2="423.30" y2="273.10" stroke="#222" stroke-width="0.81"/>
<line x1="421.30" y1="273.10" x2="425.30" y2="273.10" stroke="#222" stroke-width="0.9"/>
<line x1="423.30" y1="283.87" x2="423.30" y2="281.67" stroke="#222" stroke-width="0.81"/>
<line x1="421.30" y1="281.67" x2="425.30" y2="281.67" stroke="#222" stroke-width="0.9"/>
<line x1="423.30" y1="347.39" x2="423.30" y2="346.89" stroke="#222" stroke-width="0.81"/>
<line x1="421.30" y1="346.89" x2="425.30" y2="346.89" stroke="#222" stroke-width="0.9"/>
<text x="423.30" y="266.50" font-size="6.3" text-anchor="middle" fill="#000" stroke="#000" stroke-width="0.15">ns</text>
<line x1="433.90" y1="276.10" x2="433.90" y2="273.10" stroke="#222" stroke-width="0.81"/>
<line x1="431.90" y1="273.10" x2="435.90" y2="273.10" stroke="#222" stroke-width="0.9"/>
<line x1="433.90" y1="285.46" x2="433.90" y2="279.86" stroke="#222" stroke-width="0.81"/>
<line x1="431.90" y1="279.86" x2="435.90" y2="279.86" stroke="#222" stroke-width="0.9"/>
<line x1="433.90" y1="349.84" x2="433.90" y2="344.54" stroke="#222" stroke-width="0.81"/>
<line x1="431.90" y1="344.54" x2="435.90" y2="344.54" stroke="#222" stroke-width="0.9"/>
<text x="433.90" y="266.50" font-size="6.3" text-anchor="middle" fill="#000" stroke="#000" stroke-width="0.15">ns</text>
<line x1="444.50" y1="276.10" x2="444.50" y2="274.60" stroke="#222" stroke-width="0.81"/>
<line x1="442.50" y1="274.60" x2="446.50" y2="274.60" stroke="#222" stroke-width="0.9"/>
<line x1="444.50" y1="328.13" x2="444.50" y2="327.43" stroke="#222" stroke-width="0.81"/>
<line x1="442.50" y1="327.43" x2="446.50" y2="327.43" stroke="#222" stroke-width="0.9"/>
<line x1="444.50" y1="351.43" x2="444.50" y2="350.13" stroke="#222" stroke-width="0.81"/>
<line x1="442.50" y1="350.13" x2="446.50" y2="350.13" stroke="#222" stroke-width="0.9"/>
<circle cx="441.05" cy="264.90" r="0.80" fill="#000" stroke="none" stroke-width="0.6"/>
<circle cx="443.35" cy="264.90" r="0.80" fill="#000" stroke="none" stroke-width="0.6"/>
<circle cx="445.65" cy="264.90" r="0.80" fill="#000" stroke="none" stroke-width="0.6"/>
<circle cx="447.95" cy="264.90" r="0.80" fill="#000" stroke="none" stroke-width="0.6"/>
<line x1="453.10" y1="276.10" x2="457.10" y2="276.10" stroke="#222" stroke-width="0.9"/>
<line x1="455.10" y1="276.84" x2="455.10" y2="275.34" stroke="#222" stroke-width="0.81"/>
<line x1="453.10" y1="275.34" x2="457.10" y2="275.34" stroke="#222" stroke-width="0.9"/>
<line x1="455.10" y1="348.66" x2="455.10" y2="347.06" stroke="#222" stroke-width="0.81"/>
<line x1="453.10" y1="347.06" x2="457.10" y2="347.06" stroke="#222" stroke-width="0.9"/>
<text x="455.10" y="266.50" font-size="6.3" text-anchor="middle" fill="#000" stroke="#000" stroke-width="0.15">ns</text>
<line x1="465.70" y1="276.10" x2="465.70" y2="267.80" stroke="#222" stroke-width="0.81"/>
<line x1="463.70" y1="267.80" x2="467.70" y2="267.80" stroke="#222" stroke-width="0.9"/>
<line x1="465.70" y1="334.62" x2="465.70" y2="325.82" stroke="#222" stroke-width="0.81"/>
<line x1="463.70" y1="325.82" x2="467.70" y2="325.82" stroke="#222" stroke-width="0.9"/>
<circle cx="462.25" cy="264.90" r="0.80" fill="#000" stroke="none" stroke-width="0.6"/>
<circle cx="464.55" cy="264.90" r="0.80" fill="#000" stroke="none" stroke-width="0.6"/>
<circle cx="466.85" cy="264.90" r="0.80" fill="#000" stroke="none" stroke-width="0.6"/>
<circle cx="469.15" cy="264.90" r="0.80" fill="#000" stroke="none" stroke-width="0.6"/>
<path d="M412.70 260.60 V258.20 H423.30 V260.60" fill="none" stroke="#444" stroke-width="0.7"/>
<text x="418.00" y="256.90" font-size="5.6" text-anchor="middle" fill="#000" stroke="#000" stroke-width="0.1">ns</text>
<path d="M326.70 447.40 V450.10 H357.00 V447.40" fill="none" stroke="#000" stroke-width="0.9"/>
<text x="318.70" y="460.30" font-size="9.1" text-anchor="start" fill="#000" font-style="italic" stroke="#000" stroke-width="0.22">SLC25A38<tspan font-size="5" dy="-3.5">-/-</tspan></text>
<path d="M313.90 466.00 V469.20 H386.90 V466.00" fill="none" stroke="#000" stroke-width="1.0"/>
<text x="350.00" y="480.20" font-size="11.2" text-anchor="middle" fill="#000" stroke="#000" stroke-width="0.22">B6 low</text>
<path d="M409.60 447.40 V450.10 H441.00 V447.40" fill="none" stroke="#000" stroke-width="0.9"/>
<text x="401.50" y="460.30" font-size="9.1" text-anchor="start" fill="#000" font-style="italic" stroke="#000" stroke-width="0.22">SLC25A38<tspan font-size="5" dy="-3.5">-/-</tspan></text>
<path d="M397.90 466.00 V469.20 H471.60 V466.00" fill="none" stroke="#000" stroke-width="1.0"/>
<text x="433.50" y="480.20" font-size="11.2" text-anchor="middle" fill="#000" stroke="#000" stroke-width="0.22">B6 high</text>
<rect x="238.20" y="411.30" width="10.00" height="6.00" fill="#ffb8b8" stroke="#555" stroke-width="0.6"/>
<text x="251.00" y="417.30" font-size="8.6" text-anchor="start" fill="#000" stroke="#000" stroke-width="0.22">D2-TTP (M+2)</text>
<rect x="238.20" y="424.80" width="10.00" height="6.00" fill="#008b8b" stroke="#555" stroke-width="0.6"/>
<text x="251.00" y="430.80" font-size="8.6" text-anchor="start" fill="#000" stroke="#000" stroke-width="0.22">D1-TTP (M+1)</text>
<rect x="238.20" y="439.30" width="10.00" height="6.00" fill="#000" stroke="none" stroke-width="0.6"/>
<text x="251.00" y="445.30" font-size="8.6" text-anchor="start" fill="#000" stroke="#000" stroke-width="0.22">TTP (M+0)</text>
<text x="504.30" y="274.30" font-size="19.3" text-anchor="start" fill="#000" font-weight="bold" stroke="#000" stroke-width="0.3">E</text>
<line x1="533.30" y1="305.00" x2="533.30" y2="397.50" stroke="#000" stroke-width="1.1"/>
<line x1="532.80" y1="397.00" x2="685.00" y2="397.00" stroke="#000" stroke-width="1.1"/>
<line x1="529.80" y1="397.00" x2="533.30" y2="397.00" stroke="#000" stroke-width="1.0"/>
<text x="528.50" y="399.60" font-size="7.2" text-anchor="end" fill="#000" stroke="#000" stroke-width="0.22">0.0</text>
<line x1="529.80" y1="366.50" x2="533.30" y2="366.50" stroke="#000" stroke-width="1.0"/>
<text x="528.50" y="369.10" font-size="7.2" text-anchor="end" fill="#000" stroke="#000" stroke-width="0.22">0.5</text>
<line x1="529.80" y1="336.00" x2="533.30" y2="336.00" stroke="#000" stroke-width="1.0"/>
<text x="528.50" y="338.60" font-size="7.2" text-anchor="end" fill="#000" stroke="#000" stroke-width="0.22">1.0</text>
<line x1="529.80" y1="305.50" x2="533.30" y2="305.50" stroke="#000" stroke-width="1.0"/>
<text x="528.50" y="308.10" font-size="7.2" text-anchor="end" fill="#000" stroke="#000" stroke-width="0.22">1.5</text>
<text x="504.60" y="343.40" font-size="6.95" text-anchor="middle" fill="#000" transform="rotate(-90 504.60 343.40)" stroke="#000" stroke-width="0.22">Fold change to</text>
<text x="511.80" y="343.40" font-size="7.05" text-anchor="middle" fill="#000" transform="rotate(-90 511.80 343.40)" stroke="#000" stroke-width="0.22">SLC25A38 KO +ev</text>
<rect x="629.80" y="277.70" width="10.20" height="5.60" fill="#f26d6d" stroke="#333" stroke-width="0.6"/>
<text x="645.70" y="283.00" font-size="7.25" text-anchor="start" fill="#000" stroke="#000" stroke-width="0.22">GAR</text>
<rect x="629.80" y="286.00" width="10.20" height="5.60" fill="#6f6ff5" stroke="#333" stroke-width="0.6"/>
<text x="645.70" y="291.30" font-size="7.25" text-anchor="start" fill="#000" stroke="#000" stroke-width="0.22">SAICAR</text>
<rect x="629.80" y="294.10" width="10.20" height="5.60" fill="#fcc578" stroke="#333" stroke-width="0.6"/>
<text x="645.70" y="299.40" font-size="7.25" text-anchor="start" fill="#000" stroke="#000" stroke-width="0.22">AICAR</text>
<rect x="536.70" y="379.94" width="6.8" height="9.72" rx="1.5" fill="#f26d6d" stroke="#222" stroke-width="0.6"/>
<line x1="536.70" y1="384.80" x2="543.50" y2="384.80" stroke="#333" stroke-width="0.5"/>
<circle cx="540.10" cy="388.46" r="1.10" fill="none" stroke="#222" stroke-width="0.5"/>
<circle cx="540.10" cy="381.14" r="1.10" fill="none" stroke="#222" stroke-width="0.5"/>
<circle cx="540.90" cy="383.58" r="1.10" fill="none" stroke="#222" stroke-width="0.5"/>
<rect x="547.40" y="395.19" width="6.8" height="3.62" rx="1.5" fill="#6f6ff5" stroke="#222" stroke-width="0.6"/>
<line x1="547.40" y1="397.00" x2="554.20" y2="397.00" stroke="#333" stroke-width="0.5"/>
<circle cx="550.80" cy="397.61" r="1.10" fill="none" stroke="#222" stroke-width="0.5"/>
<circle cx="550.80" cy="396.39" r="1.10" fill="none" stroke="#222" stroke-width="0.5"/>
<circle cx="551.60" cy="395.78" r="1.10" fill="none" stroke="#222" stroke-width="0.5"/>
<rect x="557.90" y="386.65" width="6.8" height="7.28" rx="1.5" fill="#fcc578" stroke="#222" stroke-width="0.6"/>
<line x1="557.90" y1="390.29" x2="564.70" y2="390.29" stroke="#333" stroke-width="0.5"/>
<circle cx="561.30" cy="392.73" r="1.10" fill="none" stroke="#222" stroke-width="0.5"/>
<circle cx="561.30" cy="387.85" r="1.10" fill="none" stroke="#222" stroke-width="0.5"/>
<circle cx="562.10" cy="389.07" r="1.10" fill="none" stroke="#222" stroke-width="0.5"/>
<rect x="575.40" y="324.43" width="6.8" height="25.58" rx="1.5" fill="#f26d6d" stroke="#222" stroke-width="0.6"/>
<line x1="575.40" y1="336.61" x2="582.20" y2="336.61" stroke="#333" stroke-width="0.5"/>
<circle cx="578.80" cy="348.81" r="1.10" fill="none" stroke="#222" stroke-width="0.5"/>
<circle cx="578.80" cy="325.63" r="1.10" fill="none" stroke="#222" stroke-width="0.5"/>
<circle cx="579.60" cy="335.39" r="1.10" fill="none" stroke="#222" stroke-width="0.5"/>
<rect x="586.10" y="317.72" width="6.8" height="48.76" rx="1.5" fill="#6f6ff5" stroke="#222" stroke-width="0.6"/>
<line x1="586.10" y1="336.00" x2="592.90" y2="336.00" stroke="#333" stroke-width="0.5"/>
<circle cx="589.50" cy="365.28" r="1.10" fill="none" stroke="#222" stroke-width="0.5"/>
<circle cx="589.50" cy="318.92" r="1.10" fill="none" stroke="#222" stroke-width="0.5"/>
<circle cx="590.30" cy="334.78" r="1.10" fill="none" stroke="#222" stroke-width="0.5"/>
<rect x="596.60" y="322.60" width="6.8" height="30.46" rx="1.5" fill="#fcc578" stroke="#222" stroke-width="0.6"/>
<line x1="596.60" y1="336.61" x2="603.40" y2="336.61" stroke="#333" stroke-width="0.5"/>
<circle cx="600.00" cy="351.86" r="1.10" fill="none" stroke="#222" stroke-width="0.5"/>
<circle cx="600.00" cy="323.80" r="1.10" fill="none" stroke="#222" stroke-width="0.5"/>
<circle cx="600.80" cy="335.39" r="1.10" fill="none" stroke="#222" stroke-width="0.5"/>
<rect x="614.60" y="393.97" width="6.8" height="4.23" rx="1.5" fill="#f26d6d" stroke="#222" stroke-width="0.6"/>
<line x1="614.60" y1="396.08" x2="621.40" y2="396.08" stroke="#333" stroke-width="0.5"/>
<circle cx="618.00" cy="397.00" r="1.10" fill="none" stroke="#222" stroke-width="0.5"/>
<circle cx="618.00" cy="395.17" r="1.10" fill="none" stroke="#222" stroke-width="0.5"/>
<circle cx="618.80" cy="394.87" r="1.10" fill="none" stroke="#222" stroke-width="0.5"/>
<rect x="625.10" y="395.19" width="6.8" height="3.62" rx="1.5" fill="#6f6ff5" stroke="#222" stroke-width="0.6"/>
<line x1="625.10" y1="397.00" x2="631.90" y2="397.00" stroke="#333" stroke-width="0.5"/>
<circle cx="628.50" cy="397.61" r="1.10" fill="none" stroke="#222" stroke-width="0.5"/>
<circle cx="628.50" cy="396.39" r="1.10" fill="none" stroke="#222" stroke-width="0.5"/>
<circle cx="629.30" cy="395.78" r="1.10" fill="none" stroke="#222" stroke-width="0.5"/>
<rect x="635.60" y="389.70" width="6.8" height="4.84" rx="1.5" fill="#fcc578" stroke="#222" stroke-width="0.6"/>
<line x1="635.60" y1="392.12" x2="642.40" y2="392.12" stroke="#333" stroke-width="0.5"/>
<circle cx="639.00" cy="393.34" r="1.10" fill="none" stroke="#222" stroke-width="0.5"/>
<circle cx="639.80" cy="390.90" r="1.10" fill="none" stroke="#222" stroke-width="0.5"/>
<circle cx="639.80" cy="390.90" r="1.10" fill="none" stroke="#222" stroke-width="0.5"/>
<rect x="653.00" y="363.47" width="6.8" height="8.50" rx="1.5" fill="#f26d6d" stroke="#222" stroke-width="0.6"/>
<line x1="653.00" y1="367.72" x2="659.80" y2="367.72" stroke="#333" stroke-width="0.5"/>
<circle cx="656.40" cy="370.77" r="1.10" fill="none" stroke="#222" stroke-width="0.5"/>
<circle cx="656.40" cy="364.67" r="1.10" fill="none" stroke="#222" stroke-width="0.5"/>
<circle cx="657.20" cy="366.50" r="1.10" fill="none" stroke="#222" stroke-width="0.5"/>
<rect x="663.80" y="343.95" width="6.8" height="25.58" rx="1.5" fill="#6f6ff5" stroke="#222" stroke-width="0.6"/>
<line x1="663.80" y1="354.30" x2="670.60" y2="354.30" stroke="#333" stroke-width="0.5"/>
<circle cx="667.20" cy="368.33" r="1.10" fill="none" stroke="#222" stroke-width="0.5"/>
<circle cx="667.20" cy="345.15" r="1.10" fill="none" stroke="#222" stroke-width="0.5"/>
<circle cx="668.00" cy="353.08" r="1.10" fill="none" stroke="#222" stroke-width="0.5"/>
<rect x="674.60" y="343.95" width="6.8" height="9.11" rx="1.5" fill="#fcc578" stroke="#222" stroke-width="0.6"/>
<line x1="674.60" y1="348.81" x2="681.40" y2="348.81" stroke="#333" stroke-width="0.5"/>
<circle cx="678.00" cy="351.86" r="1.10" fill="none" stroke="#222" stroke-width="0.5"/>
<circle cx="678.00" cy="345.15" r="1.10" fill="none" stroke="#222" stroke-width="0.5"/>
<circle cx="678.80" cy="347.59" r="1.10" fill="none" stroke="#222" stroke-width="0.5"/>
<line x1="551.30" y1="397.00" x2="551.30" y2="400.50" stroke="#000" stroke-width="1.0"/>
<line x1="589.80" y1="397.00" x2="589.80" y2="400.50" stroke="#000" stroke-width="1.0"/>
<line x1="628.40" y1="397.00" x2="628.40" y2="400.50" stroke="#000" stroke-width="1.0"/>
<line x1="667.40" y1="397.00" x2="667.40" y2="400.50" stroke="#000" stroke-width="1.0"/>
<text x="542.20" y="374.20" font-size="4.7" text-anchor="start" fill="#f27b7b" transform="rotate(-90 542.20 374.20)">p=0.0003</text>
<circle cx="537.90" cy="376.80" r="0.85" fill="#f27b7b" stroke="none" stroke-width="0.6"/>
<circle cx="540.70" cy="376.80" r="0.85" fill="#f27b7b" stroke="none" stroke-width="0.6"/>
<circle cx="543.50" cy="376.80" r="0.85" fill="#f27b7b" stroke="none" stroke-width="0.6"/>
<text x="552.60" y="374.20" font-size="4.7" text-anchor="start" fill="#7b7bf2" transform="rotate(-90 552.60 374.20)">p=0.0011</text>
<circle cx="549.70" cy="376.80" r="0.85" fill="#7b7bf2" stroke="none" stroke-width="0.6"/>
<circle cx="552.50" cy="376.80" r="0.85" fill="#7b7bf2" stroke="none" stroke-width="0.6"/>
<text x="563.20" y="374.20" font-size="4.7" text-anchor="start" fill="#f2b447" transform="rotate(-90 563.20 374.20)">p=0.0018</text>
<circle cx="560.30" cy="376.80" r="0.85" fill="#f2b447" stroke="none" stroke-width="0.6"/>
<circle cx="563.10" cy="376.80" r="0.85" fill="#f2b447" stroke="none" stroke-width="0.6"/>
<text x="618.60" y="381.50" font-size="4.7" text-anchor="start" fill="#f27b7b" transform="rotate(-90 618.60 381.50)">p&lt;0.0001</text>
<circle cx="612.90" cy="385.00" r="0.85" fill="#f27b7b" stroke="none" stroke-width="0.6"/>
<circle cx="615.70" cy="385.00" r="0.85" fill="#f27b7b" stroke="none" stroke-width="0.6"/>
<circle cx="618.50" cy="385.00" r="0.85" fill="#f27b7b" stroke="none" stroke-width="0.6"/>
<circle cx="621.30" cy="385.00" r="0.85" fill="#f27b7b" stroke="none" stroke-width="0.6"/>
<text x="629.60" y="381.50" font-size="4.7" text-anchor="start" fill="#7b7bf2" transform="rotate(-90 629.60 381.50)">p=0.0011</text>
<circle cx="626.70" cy="385.00" r="0.85" fill="#7b7bf2" stroke="none" stroke-width="0.6"/>
<circle cx="629.50" cy="385.00" r="0.85" fill="#7b7bf2" stroke="none" stroke-width="0.6"/>
<text x="639.80" y="381.50" font-size="4.7" text-anchor="start" fill="#f2b447" transform="rotate(-90 639.80 381.50)">p=0.0014</text>
<circle cx="636.90" cy="385.00" r="0.85" fill="#f2b447" stroke="none" stroke-width="0.6"/>
<circle cx="639.70" cy="385.00" r="0.85" fill="#f2b447" stroke="none" stroke-width="0.6"/>
<text x="656.20" y="353.80" font-size="4.7" text-anchor="start" fill="#f27b7b" transform="rotate(-90 656.20 353.80)">p=0.0073</text>
<circle cx="653.30" cy="356.90" r="0.85" fill="#f27b7b" stroke="none" stroke-width="0.6"/>
<circle cx="656.10" cy="356.90" r="0.85" fill="#f27b7b" stroke="none" stroke-width="0.6"/>
<text x="666.50" y="336.00" font-size="7.5" text-anchor="middle" fill="#7070f0">ns</text>
<text x="678.00" y="336.00" font-size="7.5" text-anchor="middle" fill="#eeaa40">ns</text>
<text x="555.10" y="404.00" font-size="10.7" text-anchor="end" fill="#000" transform="rotate(-45 555.10 404.00)" stroke="#000" stroke-width="0.22">WT</text>
<text x="593.60" y="404.00" font-size="10.7" text-anchor="end" fill="#000" transform="rotate(-45 593.60 404.00)" stroke="#000" stroke-width="0.22">+ev</text>
<text x="632.20" y="404.00" font-size="10.7" text-anchor="end" fill="#000" transform="rotate(-45 632.20 404.00)" stroke="#000" stroke-width="0.22">+A38-WT</text>
<text x="671.20" y="404.00" font-size="10.7" text-anchor="end" fill="#000" transform="rotate(-45 671.20 404.00)" stroke="#000" stroke-width="0.22">+A38-R134C</text>
<path d="M571.3 450.3 V454.3 H673.4 V450.3" fill="none" stroke="#000" stroke-width="1.0"/>
<text x="594.70" y="464.50" font-size="11.0" text-anchor="start" fill="#000" font-style="italic" stroke="#000" stroke-width="0.22">SLC25A38<tspan font-size="5.5" dy="-4">-/-</tspan></text>
<text x="0.00" y="270.00" font-size="19.3" text-anchor="start" fill="#000" font-weight="bold" stroke="#000" stroke-width="0.3">D</text>
<text x="14.00" y="275.80" font-size="10.5" text-anchor="start" fill="#000" font-weight="bold">i</text>
<path d="M143.50 273.70 C149.27 272.73 156.98 271.58 165.00 272.20 C173.02 272.82 184.77 275.15 191.60 277.40 C198.43 279.65 201.87 281.90 206.00 285.70 C210.13 289.50 213.63 294.68 216.40 300.20 C219.17 305.72 221.18 312.60 222.60 318.80 C224.02 325.00 224.43 330.87 224.90 337.40 C225.37 343.93 225.58 350.90 225.40 358.00 C225.22 365.10 224.87 372.17 223.80 380.00 C222.73 387.83 221.23 396.20 219.00 405.00 C216.77 413.80 214.90 425.13 210.40 432.80 C205.90 440.47 199.40 446.43 192.00 451.00 C184.60 455.57 174.67 459.12 166.00 460.20 C157.33 461.28 147.17 459.12 140.00 457.50 C132.83 455.88 127.32 454.08 123.00 450.50 C118.68 446.92 115.83 440.93 114.10 436.00 C112.37 431.07 112.48 426.32 112.60 420.90 C112.72 415.48 113.32 410.03 114.80 403.50 C116.28 396.97 119.08 387.95 121.50 381.70 C123.92 375.45 128.25 370.95 129.30 366.00 C130.35 361.05 128.70 356.15 127.80 352.00 C126.90 347.85 125.35 344.73 123.90 341.10 C122.45 337.47 120.47 333.83 119.10 330.20 C117.73 326.57 116.53 322.92 115.70 319.30 C114.87 315.68 114.18 312.12 114.10 308.50 C114.02 304.88 114.10 301.23 115.20 297.60 C116.30 293.97 118.17 289.97 120.70 286.70 C123.23 283.43 126.60 280.17 130.40 278.00 C134.20 275.83 137.73 274.67 143.50 273.70 Z" fill="#d8e6f2" stroke="#aac7dd" stroke-width="1.5"/>
<path d="M144.53 277.43 C149.89 276.50 157.07 275.40 164.52 275.99 C171.98 276.58 182.91 278.81 189.26 280.96 C195.61 283.11 198.81 285.26 202.65 288.89 C206.50 292.51 209.75 297.46 212.32 302.73 C214.90 308.00 216.77 314.58 218.09 320.50 C219.41 326.42 219.80 332.02 220.23 338.26 C220.66 344.50 220.86 351.15 220.69 357.93 C220.52 364.71 220.20 371.46 219.21 378.94 C218.21 386.42 216.82 394.41 214.74 402.82 C212.67 411.22 210.93 422.04 206.74 429.37 C202.56 436.69 196.51 442.39 189.63 446.75 C182.75 451.11 173.51 454.50 165.45 455.53 C157.39 456.57 147.94 454.50 141.27 452.95 C134.61 451.41 129.48 449.69 125.46 446.27 C121.45 442.85 118.80 437.13 117.19 432.42 C115.57 427.71 115.68 423.17 115.79 418.00 C115.90 412.83 116.46 407.62 117.84 401.38 C119.22 395.15 121.82 386.53 124.07 380.57 C126.31 374.60 130.34 370.30 131.32 365.57 C132.30 360.85 130.76 356.17 129.93 352.20 C129.09 348.24 127.65 345.26 126.30 341.79 C124.95 338.32 123.11 334.85 121.83 331.38 C120.56 327.91 119.45 324.43 118.67 320.97 C117.90 317.52 117.26 314.11 117.19 310.66 C117.11 307.21 117.19 303.72 118.21 300.25 C119.23 296.78 120.97 292.96 123.32 289.84 C125.68 286.72 128.81 283.60 132.34 281.53 C135.88 279.46 139.16 278.35 144.53 277.43 Z" fill="#e5eff8"/>
<path d="M128 300 C140 292 160 296 175 300 C190 304 205 298 214 310 L214 318 C205 310 192 314 178 312 C160 309 140 306 128 300 Z" fill="#eef5fb"/>
<path d="M122 330 C135 326 150 332 158 340 C150 346 138 338 124 340 Z" fill="#eef5fb"/>
<path d="M195 360 C205 350 216 356 218 370 C216 385 210 392 200 388 C207 380 205 368 195 360 Z" fill="#eef5fb"/>
<path d="M125 410 C135 402 150 404 160 412 C150 418 138 414 125 418 Z" fill="#eef5fb"/>
<path d="M132 440 C150 446 172 440 190 446 C204 448 212 438 214 426 C205 438 190 434 172 432 C155 431 142 436 132 440 Z" fill="#eef5fb"/>
<text x="62.70" y="269.00" font-size="7.8" text-anchor="middle" fill="#a52c2a" font-weight="bold" stroke="#a52c2a" stroke-width="0.2">Cytosol</text>
<text x="155.50" y="269.00" font-size="8.0" text-anchor="middle" fill="#2e7c80" font-weight="bold" stroke="#2e7c80" stroke-width="0.2">Mitochondria</text>
<text x="17.90" y="295.20" font-size="6.9" text-anchor="start" fill="#000">[2,3,3-<tspan font-size="4" dy="-2.5">2</tspan><tspan dy="2.5">H]-Serine</tspan></text>
<circle cx="79.30" cy="292.80" r="4.15" fill="none" stroke="#222" stroke-width="0.7"/>
<circle cx="87.60" cy="292.80" r="4.15" fill="none" stroke="#222" stroke-width="0.7"/>
<circle cx="96.00" cy="292.80" r="4.15" fill="none" stroke="#222" stroke-width="0.7"/>
<circle cx="87.60" cy="287.15" r="1.45" fill="#e03a3a" stroke="none" stroke-width="0.6"/>
<circle cx="96.00" cy="287.15" r="1.45" fill="#e03a3a" stroke="none" stroke-width="0.6"/>
<circle cx="96.00" cy="298.25" r="1.45" fill="#e03a3a" stroke="none" stroke-width="0.6"/>
<line x1="104.50" y1="292.80" x2="141.50" y2="292.80" stroke="#222" stroke-width="0.85"/>
<path d="M107.20 290.94 L104.00 292.80 L107.20 294.66 L106.72 292.80 Z" fill="#222" stroke="none" stroke-width="0"/>
<path d="M139.30 290.94 L142.50 292.80 L139.30 294.66 L139.78 292.80 Z" fill="#222" stroke="none" stroke-width="0"/>
<line x1="69.40" y1="303.00" x2="69.40" y2="346.50" stroke="#222" stroke-width="0.85"/>
<path d="M67.54 304.40 L69.40 301.20 L71.26 304.40 L69.40 303.92 Z" fill="#222" stroke="none" stroke-width="0"/>
<path d="M67.54 345.30 L69.40 348.50 L71.26 345.30 L69.40 345.78 Z" fill="#222" stroke="none" stroke-width="0"/>
<path d="M69.4 317 C69.4 313 67.4 312 63.900000000000006 312" fill="none" stroke="#222" stroke-width="0.8"/>
<path d="M64.20 310.14 L61.00 312.00 L64.20 313.86 L63.72 312.00 Z" fill="#222" stroke="none" stroke-width="0"/>
<text x="48.30" y="314.00" font-size="6.2" text-anchor="start" fill="#9a9a9a">THF</text>
<circle cx="87.10" cy="313.40" r="5.90" fill="#f0c21c" stroke="#8f6d0a" stroke-width="0.9"/>
<text x="87.10" y="315.20" font-size="5.1" text-anchor="middle" fill="#222" font-weight="bold">PLP</text>
<rect x="54.50" y="320.10" width="31.30" height="11.40" fill="#c94a4a" stroke="#7a2020" stroke-width="0.7"/>
<text x="70.15" y="328.30" font-size="7.1" text-anchor="middle" fill="#000" font-weight="bold" stroke="#000" stroke-width="0.25">SHMT1</text>
<path d="M69.4 334 C69.4 337 71.4 338.5 75.4 338.5" fill="none" stroke="#222" stroke-width="0.75"/>
<path d="M75.10 336.88 L77.90 338.50 L75.10 340.12 L75.52 338.50 Z" fill="#222" stroke="none" stroke-width="0"/>
<text x="79.30" y="340.60" font-size="5.8" text-anchor="start" fill="#000" font-weight="bold">Glycine</text>
<circle cx="105.80" cy="338.50" r="4.00" fill="none" stroke="#222" stroke-width="0.7"/>
<circle cx="114.50" cy="338.50" r="4.00" fill="none" stroke="#222" stroke-width="0.7"/>
<circle cx="114.50" cy="333.00" r="1.45" fill="#e03a3a" stroke="none" stroke-width="0.6"/>
<text x="53.40" y="357.80" font-size="6.3" text-anchor="start" fill="#000">5,10-meTHF</text>
<circle cx="94.50" cy="355.60" r="3.90" fill="none" stroke="#222" stroke-width="0.7"/>
<circle cx="94.50" cy="350.20" r="1.45" fill="#e03a3a" stroke="none" stroke-width="0.6"/>
<circle cx="94.50" cy="360.80" r="1.45" fill="#e03a3a" stroke="none" stroke-width="0.6"/>
<circle cx="105.30" cy="355.60" r="3.90" fill="none" stroke="#222" stroke-width="0.7"/>
<circle cx="105.30" cy="350.20" r="1.45" fill="#3aa3ad" stroke="none" stroke-width="0.6"/>
<line x1="34.50" y1="355.60" x2="51.50" y2="355.60" stroke="#222" stroke-width="0.85"/>
<path d="M35.50 353.74 L32.30 355.60 L35.50 357.46 L35.02 355.60 Z" fill="#222" stroke="none" stroke-width="0"/>
<text x="17.90" y="357.80" font-size="6.4" text-anchor="start" fill="#000">TTP</text>
<text x="10.00" y="343.60" font-size="4.6" text-anchor="start" fill="#888">M+2</text>
<circle cx="27.30" cy="342.00" r="3.80" fill="none" stroke="#222" stroke-width="0.7"/>
<circle cx="27.30" cy="336.70" r="1.45" fill="#e03a3a" stroke="none" stroke-width="0.6"/>
<circle cx="27.30" cy="347.10" r="1.45" fill="#e03a3a" stroke="none" stroke-width="0.6"/>
<text x="10.40" y="370.70" font-size="4.6" text-anchor="start" fill="#888">M+1</text>
<circle cx="26.80" cy="369.10" r="3.80" fill="none" stroke="#222" stroke-width="0.7"/>
<circle cx="26.80" cy="363.80" r="1.45" fill="#3aa3ad" stroke="none" stroke-width="0.6"/>
<line x1="69.40" y1="363.00" x2="69.40" y2="378.00" stroke="#222" stroke-width="0.85"/>
<path d="M67.54 364.40 L69.40 361.20 L71.26 364.40 L69.40 363.92 Z" fill="#222" stroke="none" stroke-width="0"/>
<path d="M69.4 376 C69.4 373.5 71.4 372.8 76.4 372.8" fill="none" stroke="#222" stroke-width="0.75"/>
<path d="M75.80 371.29 L78.40 372.80 L75.80 374.31 L76.19 372.80 Z" fill="#222" stroke="none" stroke-width="0"/>
<text x="79.50" y="374.50" font-size="4.4" text-anchor="start" fill="#888">NADP+</text>
<rect x="54.70" y="378.00" width="31.00" height="10.50" fill="#f6cccc" stroke="#c24848" stroke-width="0.7"/>
<text x="70.20" y="385.75" font-size="7.0" text-anchor="middle" fill="#000" font-weight="bold" stroke="#000" stroke-width="0.25">MTHFD1</text>
<line x1="69.40" y1="388.50" x2="69.40" y2="399.50" stroke="#222" stroke-width="0.85"/>
<path d="M67.54 398.10 L69.40 401.30 L71.26 398.10 L69.40 398.58 Z" fill="#222" stroke="none" stroke-width="0"/>
<path d="M69.4 391 C69.4 393.5 67.4 394.2 63.400000000000006 394.2" fill="none" stroke="#222" stroke-width="0.75"/>
<path d="M64.00 392.69 L61.40 394.20 L64.00 395.71 L63.61 394.20 Z" fill="#222" stroke="none" stroke-width="0"/>
<text x="42.70" y="395.90" font-size="4.4" text-anchor="start" fill="#888">NADPH</text>
<text x="45.50" y="409.80" font-size="6.3" text-anchor="start" fill="#000">10-formyl-THF</text>
<circle cx="92.30" cy="407.60" r="3.90" fill="none" stroke="#222" stroke-width="0.7"/>
<circle cx="92.30" cy="402.20" r="1.45" fill="#3aa3ad" stroke="none" stroke-width="0.6"/>
<line x1="70.60" y1="416.00" x2="70.60" y2="421.00" stroke="#222" stroke-width="0.85"/>
<path d="M68.74 417.20 L70.60 414.00 L72.46 417.20 L70.60 416.72 Z" fill="#222" stroke="none" stroke-width="0"/>
<rect x="55.20" y="420.80" width="31.00" height="10.70" fill="#f6cccc" stroke="#c24848" stroke-width="0.7"/>
<text x="70.70" y="428.65" font-size="7.0" text-anchor="middle" fill="#000" font-weight="bold" stroke="#000" stroke-width="0.25">MTHFD1</text>
<line x1="70.60" y1="431.50" x2="70.60" y2="436.50" stroke="#222" stroke-width="0.85"/>
<path d="M68.74 435.30 L70.60 438.50 L72.46 435.30 L70.60 435.78 Z" fill="#222" stroke="none" stroke-width="0"/>
<text x="58.40" y="444.20" font-size="6.3" text-anchor="start" fill="#000">Formate</text>
<circle cx="88.90" cy="442.00" r="3.90" fill="none" stroke="#222" stroke-width="0.7"/>
<circle cx="88.90" cy="436.60" r="1.45" fill="#3aa3ad" stroke="none" stroke-width="0.6"/>
<line x1="103.00" y1="442.00" x2="141.00" y2="442.00" stroke="#222" stroke-width="0.85"/>
<path d="M104.00 440.14 L100.80 442.00 L104.00 443.86 L103.52 442.00 Z" fill="#222" stroke="none" stroke-width="0"/>
<circle cx="150.40" cy="292.80" r="4.15" fill="none" stroke="#222" stroke-width="0.7"/>
<circle cx="158.70" cy="292.80" r="4.15" fill="none" stroke="#222" stroke-width="0.7"/>
<circle cx="167.00" cy="292.80" r="4.15" fill="none" stroke="#222" stroke-width="0.7"/>
<circle cx="158.60" cy="287.15" r="1.45" fill="#3aa3ad" stroke="none" stroke-width="0.6"/>
<circle cx="166.90" cy="287.15" r="1.45" fill="#3aa3ad" stroke="none" stroke-width="0.6"/>
<circle cx="166.90" cy="298.25" r="1.45" fill="#3aa3ad" stroke="none" stroke-width="0.6"/>
<line x1="161.30" y1="303.00" x2="161.30" y2="346.50" stroke="#222" stroke-width="0.85"/>
<path d="M159.44 304.40 L161.30 301.20 L163.16 304.40 L161.30 303.92 Z" fill="#222" stroke="none" stroke-width="0"/>
<path d="M159.44 345.30 L161.30 348.50 L163.16 345.30 L161.30 345.78 Z" fill="#222" stroke="none" stroke-width="0"/>
<path d="M161.3 317 C161.3 313 159.3 312 155.8 312" fill="none" stroke="#222" stroke-width="0.8"/>
<path d="M156.10 310.14 L152.90 312.00 L156.10 313.86 L155.62 312.00 Z" fill="#222" stroke="none" stroke-width="0"/>
<text x="140.50" y="314.00" font-size="6.2" text-anchor="start" fill="#9a9a9a">THF</text>
<circle cx="177.00" cy="313.20" r="5.90" fill="#f0c21c" stroke="#8f6d0a" stroke-width="0.9"/>
<text x="177.00" y="315.00" font-size="5.1" text-anchor="middle" fill="#222" font-weight="bold">PLP</text>
<rect x="144.10" y="320.00" width="30.50" height="10.90" fill="#3a9ca2" stroke="#1d5f63" stroke-width="0.7"/>
<text x="159.35" y="327.95" font-size="7.1" text-anchor="middle" fill="#000" font-weight="bold" stroke="#000" stroke-width="0.25">SHMT2</text>
<path d="M161.3 334 C161.3 337 163.3 338.2 167.3 338.2" fill="none" stroke="#222" stroke-width="0.75"/>
<path d="M167.00 336.58 L169.80 338.20 L167.00 339.82 L167.42 338.20 Z" fill="#222" stroke="none" stroke-width="0"/>
<text x="170.70" y="340.30" font-size="5.8" text-anchor="start" fill="#000" font-weight="bold">Glycine</text>
<circle cx="198.30" cy="338.20" r="4.00" fill="none" stroke="#222" stroke-width="0.7"/>
<circle cx="206.30" cy="338.20" r="4.00" fill="none" stroke="#222" stroke-width="0.7"/>
<circle cx="206.30" cy="332.70" r="1.45" fill="#3aa3ad" stroke="none" stroke-width="0.6"/>
<text x="144.70" y="357.70" font-size="6.3" text-anchor="start" fill="#000">5,10-meTHF</text>
<circle cx="185.60" cy="355.50" r="3.90" fill="none" stroke="#222" stroke-width="0.7"/>
<circle cx="185.60" cy="350.10" r="1.45" fill="#3aa3ad" stroke="none" stroke-width="0.6"/>
<circle cx="185.60" cy="360.70" r="1.45" fill="#3aa3ad" stroke="none" stroke-width="0.6"/>
<line x1="161.30" y1="363.00" x2="161.30" y2="378.00" stroke="#222" stroke-width="0.85"/>
<path d="M159.44 364.40 L161.30 361.20 L163.16 364.40 L161.30 363.92 Z" fill="#222" stroke="none" stroke-width="0"/>
<path d="M161.3 376 C161.3 373.5 163.3 372.8 168.3 372.8" fill="none" stroke="#222" stroke-width="0.75"/>
<path d="M167.70 371.29 L170.30 372.80 L167.70 374.31 L168.09 372.80 Z" fill="#222" stroke="none" stroke-width="0"/>
<text x="172.50" y="374.50" font-size="4.4" text-anchor="start" fill="#888">NAD(P)+</text>
<rect x="143.40" y="378.00" width="33.00" height="10.50" fill="#b6e1e1" stroke="#3a8f93" stroke-width="0.7"/>
<text x="159.90" y="385.75" font-size="7.0" text-anchor="middle" fill="#000" font-weight="bold" stroke="#000" stroke-width="0.25">MTHFD2</text>
<line x1="161.30" y1="388.50" x2="161.30" y2="399.50" stroke="#222" stroke-width="0.85"/>
<path d="M159.44 398.10 L161.30 401.30 L163.16 398.10 L161.30 398.58 Z" fill="#222" stroke="none" stroke-width="0"/>
<path d="M161.3 391 C161.3 393.5 159.3 394.2 155.3 394.2" fill="none" stroke="#222" stroke-width="0.75"/>
<path d="M155.90 392.69 L153.30 394.20 L155.90 395.71 L155.51 394.20 Z" fill="#222" stroke="none" stroke-width="0"/>
<text x="131.00" y="395.90" font-size="4.4" text-anchor="start" fill="#888">NAD(P)H</text>
<text x="136.00" y="408.80" font-size="6.3" text-anchor="start" fill="#000">10-formyl-THF</text>
<circle cx="181.60" cy="406.60" r="3.90" fill="none" stroke="#222" stroke-width="0.7"/>
<circle cx="181.60" cy="401.20" r="1.45" fill="#3aa3ad" stroke="none" stroke-width="0.6"/>
<line x1="161.30" y1="416.00" x2="161.30" y2="421.00" stroke="#222" stroke-width="0.85"/>
<path d="M159.44 417.20 L161.30 414.00 L163.16 417.20 L161.30 416.72 Z" fill="#222" stroke="none" stroke-width="0"/>
<rect x="142.70" y="420.70" width="37.50" height="10.70" fill="#b6e1e1" stroke="#3a8f93" stroke-width="0.7"/>
<text x="161.45" y="428.55" font-size="7.2" text-anchor="middle" fill="#000" font-weight="bold" stroke="#000" stroke-width="0.25">MTHFD1L</text>
<line x1="161.30" y1="431.40" x2="161.30" y2="436.50" stroke="#222" stroke-width="0.85"/>
<path d="M159.44 435.30 L161.30 438.50 L163.16 435.30 L161.30 435.78 Z" fill="#222" stroke="none" stroke-width="0"/>
<text x="148.40" y="444.00" font-size="6.3" text-anchor="start" fill="#000">Formate</text>
<circle cx="178.00" cy="441.80" r="3.90" fill="none" stroke="#222" stroke-width="0.7"/>
<circle cx="178.00" cy="436.40" r="1.45" fill="#3aa3ad" stroke="none" stroke-width="0.6"/>
</svg></body></html>
